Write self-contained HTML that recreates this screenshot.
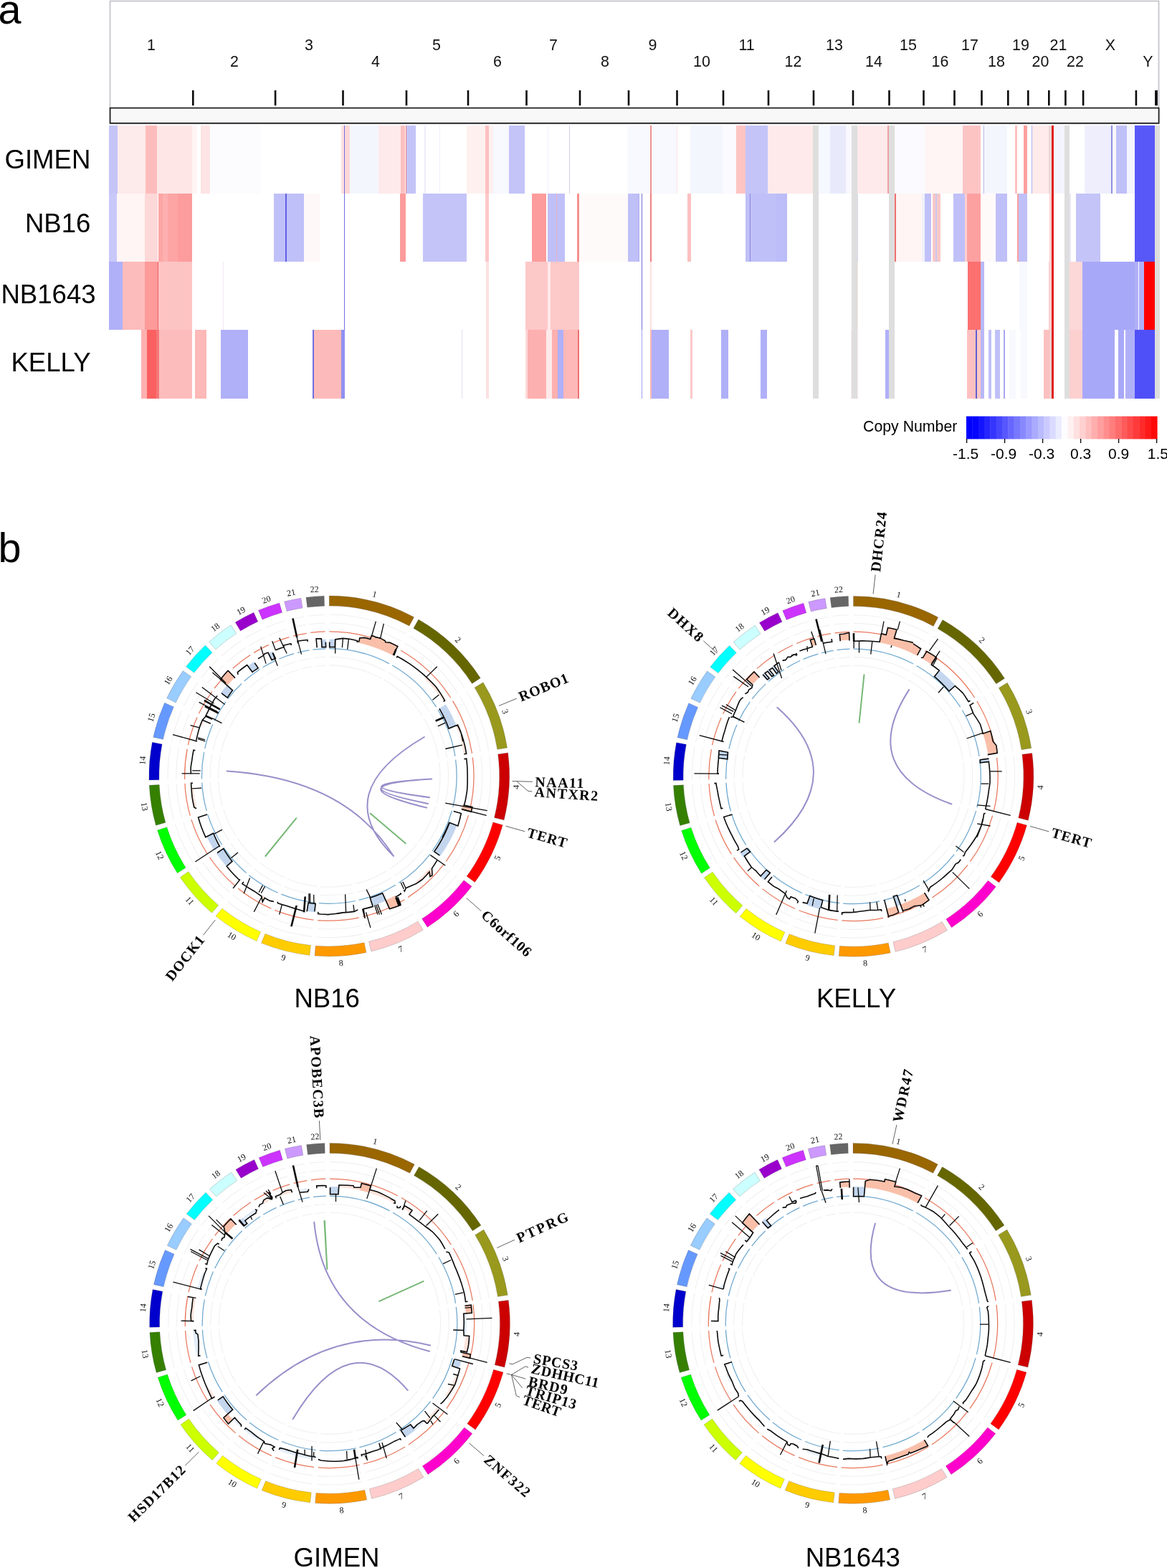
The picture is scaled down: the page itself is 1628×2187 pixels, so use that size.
<!DOCTYPE html>
<html lang="en"><head><meta charset="utf-8"><title>Copy number and structural variants</title>
<style>html,body{margin:0;padding:0;background:#fff}body{width:1628px;height:2187px;overflow:hidden}svg{display:block}</style></head><body>
<svg xmlns="http://www.w3.org/2000/svg" width="1628" height="2187" viewBox="0 0 1628 2187">
<rect width="1628" height="2187" fill="#fff"/>
<rect x="153.5" y="1.5" width="1463" height="171" fill="#fff" stroke="#c6c6cb" stroke-width="1.8"/>
<rect x="153.6" y="150.6" width="1463" height="21.2" fill="#f8f8f8" stroke="#1a1a1a" stroke-width="1.7"/>
<line x1="269.3" y1="126" x2="269.3" y2="147.2" stroke="#0a0a0a" stroke-width="2.6"/>
<line x1="384.1" y1="126" x2="384.1" y2="147.2" stroke="#0a0a0a" stroke-width="2.6"/>
<line x1="478.5" y1="126" x2="478.5" y2="147.2" stroke="#0a0a0a" stroke-width="2.6"/>
<line x1="567" y1="126" x2="567" y2="147.2" stroke="#0a0a0a" stroke-width="2.6"/>
<line x1="653" y1="126" x2="653" y2="147.2" stroke="#0a0a0a" stroke-width="2.6"/>
<line x1="734.5" y1="126" x2="734.5" y2="147.2" stroke="#0a0a0a" stroke-width="2.6"/>
<line x1="809" y1="126" x2="809" y2="147.2" stroke="#0a0a0a" stroke-width="2.6"/>
<line x1="877" y1="126" x2="877" y2="147.2" stroke="#0a0a0a" stroke-width="2.6"/>
<line x1="944.5" y1="126" x2="944.5" y2="147.2" stroke="#0a0a0a" stroke-width="2.6"/>
<line x1="1009" y1="126" x2="1009" y2="147.2" stroke="#0a0a0a" stroke-width="2.6"/>
<line x1="1072" y1="126" x2="1072" y2="147.2" stroke="#0a0a0a" stroke-width="2.6"/>
<line x1="1135" y1="126" x2="1135" y2="147.2" stroke="#0a0a0a" stroke-width="2.6"/>
<line x1="1190" y1="126" x2="1190" y2="147.2" stroke="#0a0a0a" stroke-width="2.6"/>
<line x1="1240.5" y1="126" x2="1240.5" y2="147.2" stroke="#0a0a0a" stroke-width="2.6"/>
<line x1="1288.5" y1="126" x2="1288.5" y2="147.2" stroke="#0a0a0a" stroke-width="2.6"/>
<line x1="1331.5" y1="126" x2="1331.5" y2="147.2" stroke="#0a0a0a" stroke-width="2.6"/>
<line x1="1369.5" y1="126" x2="1369.5" y2="147.2" stroke="#0a0a0a" stroke-width="2.6"/>
<line x1="1406.3" y1="126" x2="1406.3" y2="147.2" stroke="#0a0a0a" stroke-width="2.6"/>
<line x1="1434.3" y1="126" x2="1434.3" y2="147.2" stroke="#0a0a0a" stroke-width="2.6"/>
<line x1="1463.3" y1="126" x2="1463.3" y2="147.2" stroke="#0a0a0a" stroke-width="2.6"/>
<line x1="1486.4" y1="126" x2="1486.4" y2="147.2" stroke="#0a0a0a" stroke-width="2.6"/>
<line x1="1511.1" y1="126" x2="1511.1" y2="147.2" stroke="#0a0a0a" stroke-width="2.6"/>
<line x1="1584.9" y1="126" x2="1584.9" y2="147.2" stroke="#0a0a0a" stroke-width="2.6"/>
<line x1="1613" y1="126" x2="1613" y2="147.2" stroke="#0a0a0a" stroke-width="3.8"/>
<g font-family='"Liberation Sans", Arial, Helvetica, sans-serif' font-size="21.4" fill="#111" text-anchor="middle">
<text x="211" y="69.9">1</text>
<text x="431" y="69.9">3</text>
<text x="609" y="69.9">5</text>
<text x="772" y="69.9">7</text>
<text x="910.5" y="69.9">9</text>
<text x="1041.5" y="69.9">11</text>
<text x="1164" y="69.9">13</text>
<text x="1267" y="69.9">15</text>
<text x="1353" y="69.9">17</text>
<text x="1424" y="69.9">19</text>
<text x="1476.5" y="69.9">21</text>
<text x="1549" y="69.9">X</text>
<text x="327" y="92.6">2</text>
<text x="524" y="92.6">4</text>
<text x="694" y="92.6">6</text>
<text x="844" y="92.6">8</text>
<text x="979" y="92.6">10</text>
<text x="1106.5" y="92.6">12</text>
<text x="1219" y="92.6">14</text>
<text x="1311.5" y="92.6">16</text>
<text x="1390" y="92.6">18</text>
<text x="1451.5" y="92.6">20</text>
<text x="1500" y="92.6">22</text>
<text x="1601.5" y="92.6">Y</text>
</g>
<g shape-rendering="crispEdges">
<rect x="151.5" y="175.0" width="12.6" height="94.6" fill="#c4c4f8"/>
<rect x="164.1" y="175.0" width="38.6" height="94.6" fill="#fdeaea"/>
<rect x="202.7" y="175.0" width="16.6" height="94.6" fill="#fdbcbc"/>
<rect x="219.3" y="175.0" width="48.9" height="94.6" fill="#fee6e6"/>
<rect x="268.2" y="175.0" width="6.8" height="94.6" fill="#fff5f5"/>
<rect x="279.5" y="175.0" width="13.6" height="94.6" fill="#fee4e4"/>
<rect x="293.2" y="175.0" width="70.5" height="94.6" fill="#fcfcff"/>
<rect x="476.1" y="175.0" width="3.4" height="94.6" fill="#fee0e0"/>
<rect x="479.5" y="175.0" width="1.8" height="94.6" fill="#7070e0"/>
<rect x="481.4" y="175.0" width="6.6" height="94.6" fill="#fdd8d8"/>
<rect x="488.0" y="175.0" width="32.0" height="94.6" fill="#f4f6fe"/>
<rect x="520.0" y="175.0" width="8.0" height="94.6" fill="#f4f6fe"/>
<rect x="528.0" y="175.0" width="30.7" height="94.6" fill="#feeaea"/>
<rect x="558.6" y="175.0" width="6.8" height="94.6" fill="#fdc0c0"/>
<rect x="565.5" y="175.0" width="1.4" height="94.6" fill="#f08080"/>
<rect x="566.8" y="175.0" width="13.4" height="94.6" fill="#c4c4f8"/>
<rect x="592.3" y="175.0" width="1.4" height="94.6" fill="#eeeefc"/>
<rect x="612.7" y="175.0" width="1.4" height="94.6" fill="#eeeefc"/>
<rect x="650.7" y="175.0" width="26.1" height="94.6" fill="#fff0f0"/>
<rect x="676.8" y="175.0" width="5.0" height="94.6" fill="#fdc0c0"/>
<rect x="681.8" y="175.0" width="6.4" height="94.6" fill="#fff0f0"/>
<rect x="688.2" y="175.0" width="21.6" height="94.6" fill="#f8f8ff"/>
<rect x="709.8" y="175.0" width="22.3" height="94.6" fill="#c4c4f8"/>
<rect x="763.6" y="175.0" width="1.8" height="94.6" fill="#eeeefc"/>
<rect x="793.6" y="175.0" width="1.4" height="94.6" fill="#d0d0ec"/>
<rect x="874.5" y="175.0" width="15.5" height="94.6" fill="#f8f8ff"/>
<rect x="890.0" y="175.0" width="17.0" height="94.6" fill="#f8f8ff"/>
<rect x="907.0" y="175.0" width="1.8" height="94.6" fill="#f09090"/>
<rect x="908.9" y="175.0" width="34.8" height="94.6" fill="#f8f8ff"/>
<rect x="943.6" y="175.0" width="1.8" height="94.6" fill="#fde4e4"/>
<rect x="962.7" y="175.0" width="45.5" height="94.6" fill="#f4f6fe"/>
<rect x="1008.2" y="175.0" width="18.9" height="94.6" fill="#fafaff"/>
<rect x="1027.0" y="175.0" width="13.0" height="94.6" fill="#fdc4c4"/>
<rect x="1040.0" y="175.0" width="30.7" height="94.6" fill="#c4c4f8"/>
<rect x="1070.7" y="175.0" width="63.6" height="94.6" fill="#feeaea"/>
<rect x="1134.3" y="175.0" width="8.0" height="94.6" fill="#dedede"/>
<rect x="1142.3" y="175.0" width="15.9" height="94.6" fill="#f6f8ff"/>
<rect x="1158.2" y="175.0" width="21.6" height="94.6" fill="#e8eafc"/>
<rect x="1179.8" y="175.0" width="8.4" height="94.6" fill="#f8f8ff"/>
<rect x="1188.2" y="175.0" width="7.5" height="94.6" fill="#dedede"/>
<rect x="1195.7" y="175.0" width="43.2" height="94.6" fill="#feeaea"/>
<rect x="1238.4" y="175.0" width="1.8" height="94.6" fill="#f0a0a0"/>
<rect x="1240.2" y="175.0" width="7.7" height="94.6" fill="#dedede"/>
<rect x="1248.0" y="175.0" width="12.0" height="94.6" fill="#fafaff"/>
<rect x="1258.0" y="175.0" width="31.8" height="94.6" fill="#fafaff"/>
<rect x="1289.8" y="175.0" width="53.4" height="94.6" fill="#fff5f5"/>
<rect x="1343.2" y="175.0" width="25.0" height="94.6" fill="#fdc4c4"/>
<rect x="1371.6" y="175.0" width="1.8" height="94.6" fill="#b0b0f0"/>
<rect x="1373.5" y="175.0" width="31.1" height="94.6" fill="#f4f6fe"/>
<rect x="1416.0" y="175.0" width="3.0" height="94.6" fill="#fdc0c0"/>
<rect x="1428.0" y="175.0" width="4.5" height="94.6" fill="#fca0a0"/>
<rect x="1438.5" y="175.0" width="1.4" height="94.6" fill="#b0b0f0"/>
<rect x="1439.8" y="175.0" width="22.7" height="94.6" fill="#feeaea"/>
<rect x="1462.5" y="175.0" width="4.1" height="94.6" fill="#ecd8d8"/>
<rect x="1466.6" y="175.0" width="3.2" height="94.6" fill="#e02020"/>
<rect x="1469.8" y="175.0" width="15.5" height="94.6" fill="#f4f4fe"/>
<rect x="1485.3" y="175.0" width="6.4" height="94.6" fill="#dedede"/>
<rect x="1512.5" y="175.0" width="37.5" height="94.6" fill="#eeeefc"/>
<rect x="1550.0" y="175.0" width="1.8" height="94.6" fill="#9090e0"/>
<rect x="1551.9" y="175.0" width="5.0" height="94.6" fill="#f8f8ff"/>
<rect x="1556.9" y="175.0" width="15.5" height="94.6" fill="#c0c0f8"/>
<rect x="1572.3" y="175.0" width="10.7" height="94.6" fill="#f4f4fe"/>
<rect x="1583.0" y="175.0" width="28.4" height="94.6" fill="#5858f8"/>
<rect x="1611.4" y="175.0" width="6.8" height="94.6" fill="#dedede"/>
<rect x="151.5" y="269.6" width="11.0" height="95.4" fill="#c8c8fa"/>
<rect x="162.5" y="269.6" width="39.3" height="95.4" fill="#fff5f5"/>
<rect x="201.8" y="269.6" width="18.6" height="95.4" fill="#fdd8d8"/>
<rect x="220.5" y="269.6" width="47.0" height="95.4" fill="#fda5a5"/>
<rect x="227.3" y="269.6" width="6.8" height="95.4" fill="#fdb0b0"/>
<rect x="247.7" y="269.6" width="19.8" height="95.4" fill="#fc9c9c"/>
<rect x="381.8" y="269.6" width="42.0" height="95.4" fill="#c0c0f8"/>
<rect x="397.7" y="269.6" width="2.7" height="95.4" fill="#6060e8"/>
<rect x="423.9" y="269.6" width="21.6" height="95.4" fill="#fff8f8"/>
<rect x="479.5" y="269.6" width="1.8" height="95.4" fill="#7070e0"/>
<rect x="557.5" y="269.6" width="8.4" height="95.4" fill="#fc9c9c"/>
<rect x="589.8" y="269.6" width="60.9" height="95.4" fill="#c4c4f8"/>
<rect x="676.8" y="269.6" width="5.0" height="95.4" fill="#fdc8c8"/>
<rect x="741.6" y="269.6" width="20.0" height="95.4" fill="#fc9c9c"/>
<rect x="764.3" y="269.6" width="23.4" height="95.4" fill="#c0c0f8"/>
<rect x="775.5" y="269.6" width="1.8" height="95.4" fill="#e8b0c8"/>
<rect x="805.2" y="269.6" width="2.5" height="95.4" fill="#f89090"/>
<rect x="807.7" y="269.6" width="68.0" height="95.4" fill="#fffafa"/>
<rect x="875.7" y="269.6" width="14.3" height="95.4" fill="#c0c0f8"/>
<rect x="890.0" y="269.6" width="1.8" height="95.4" fill="#b8b8f8"/>
<rect x="894.5" y="269.6" width="1.8" height="95.4" fill="#7070d8"/>
<rect x="907.0" y="269.6" width="1.8" height="95.4" fill="#f08080"/>
<rect x="959.3" y="269.6" width="4.5" height="95.4" fill="#fdc0c0"/>
<rect x="1040.0" y="269.6" width="58.0" height="95.4" fill="#c0c0f8"/>
<rect x="1045.7" y="269.6" width="1.4" height="95.4" fill="#8888e0"/>
<rect x="1083.2" y="269.6" width="14.8" height="95.4" fill="#bcbcf8"/>
<rect x="1134.3" y="269.6" width="8.0" height="95.4" fill="#dedede"/>
<rect x="1188.2" y="269.6" width="7.5" height="95.4" fill="#dedede"/>
<rect x="1195.7" y="269.6" width="1.6" height="95.4" fill="#d8d8f0"/>
<rect x="1240.2" y="269.6" width="7.7" height="95.4" fill="#dedede"/>
<rect x="1248.0" y="269.6" width="2.3" height="95.4" fill="#f07070"/>
<rect x="1250.2" y="269.6" width="9.8" height="95.4" fill="#fff5f5"/>
<rect x="1258.0" y="269.6" width="28.4" height="95.4" fill="#fff5f5"/>
<rect x="1286.4" y="269.6" width="3.4" height="95.4" fill="#f0f0fc"/>
<rect x="1289.8" y="269.6" width="9.1" height="95.4" fill="#c0c0f8"/>
<rect x="1301.2" y="269.6" width="10.9" height="95.4" fill="#f8c8c8"/>
<rect x="1304.6" y="269.6" width="2.3" height="95.4" fill="#c8c8f0"/>
<rect x="1329.6" y="269.6" width="15.9" height="95.4" fill="#c0c0f8"/>
<rect x="1345.5" y="269.6" width="3.4" height="95.4" fill="#fdd0d0"/>
<rect x="1348.9" y="269.6" width="19.3" height="95.4" fill="#fca0a0"/>
<rect x="1368.2" y="269.6" width="21.1" height="95.4" fill="#fffafa"/>
<rect x="1389.4" y="269.6" width="15.2" height="95.4" fill="#c0c0f8"/>
<rect x="1418.9" y="269.6" width="2.3" height="95.4" fill="#f8a0a0"/>
<rect x="1421.2" y="269.6" width="11.4" height="95.4" fill="#c0c0f8"/>
<rect x="1463.7" y="269.6" width="3.0" height="95.4" fill="#f8d0d0"/>
<rect x="1466.6" y="269.6" width="3.2" height="95.4" fill="#e02020"/>
<rect x="1485.3" y="269.6" width="6.4" height="95.4" fill="#dedede"/>
<rect x="1491.6" y="269.6" width="2.7" height="95.4" fill="#e8e8f8"/>
<rect x="1501.2" y="269.6" width="34.1" height="95.4" fill="#c4c4f8"/>
<rect x="1583.0" y="269.6" width="28.4" height="95.4" fill="#5858f8"/>
<rect x="1611.4" y="269.6" width="6.8" height="95.4" fill="#dedede"/>
<rect x="151.5" y="365.0" width="19.4" height="95.3" fill="#b0b0f8"/>
<rect x="170.9" y="365.0" width="30.9" height="95.3" fill="#fdbcbc"/>
<rect x="201.8" y="365.0" width="18.6" height="95.3" fill="#fd9a9a"/>
<rect x="219.5" y="365.0" width="1.8" height="95.3" fill="#f06060"/>
<rect x="221.4" y="365.0" width="46.1" height="95.3" fill="#fdc4c4"/>
<rect x="310.9" y="365.0" width="0.9" height="95.3" fill="#f0e8f0"/>
<rect x="479.5" y="365.0" width="1.8" height="95.3" fill="#7070e0"/>
<rect x="678.0" y="365.0" width="3.9" height="95.3" fill="#fde0e0"/>
<rect x="732.5" y="365.0" width="75.0" height="95.3" fill="#fdc8c8"/>
<rect x="764.3" y="365.0" width="3.4" height="95.3" fill="#feeaea"/>
<rect x="894.5" y="365.0" width="1.8" height="95.3" fill="#7070d8"/>
<rect x="907.0" y="365.0" width="1.8" height="95.3" fill="#fde0e0"/>
<rect x="1134.3" y="365.0" width="8.0" height="95.3" fill="#dedede"/>
<rect x="1188.2" y="365.0" width="7.5" height="95.3" fill="#dedede"/>
<rect x="1195.7" y="365.0" width="1.6" height="95.3" fill="#fbe4e4"/>
<rect x="1240.2" y="365.0" width="7.7" height="95.3" fill="#dedede"/>
<rect x="1350.0" y="365.0" width="18.2" height="95.3" fill="#fc7070"/>
<rect x="1368.2" y="365.0" width="5.2" height="95.3" fill="#b8b8f8"/>
<rect x="1421.6" y="365.0" width="11.4" height="95.3" fill="#f8f8ff"/>
<rect x="1462.5" y="365.0" width="4.1" height="95.3" fill="#f8d0d0"/>
<rect x="1466.6" y="365.0" width="3.2" height="95.3" fill="#e02020"/>
<rect x="1485.3" y="365.0" width="6.4" height="95.3" fill="#dedede"/>
<rect x="1491.6" y="365.0" width="18.6" height="95.3" fill="#fdd8d8"/>
<rect x="1510.3" y="365.0" width="72.7" height="95.3" fill="#a8a8f8"/>
<rect x="1583.0" y="365.0" width="4.5" height="95.3" fill="#b0b0f8"/>
<rect x="1589.4" y="365.0" width="6.1" height="95.3" fill="#b0b0f8"/>
<rect x="1595.5" y="365.0" width="15.9" height="95.3" fill="#ff0000"/>
<rect x="1611.4" y="365.0" width="6.8" height="95.3" fill="#dedede"/>
<rect x="151.5" y="460.3" width="0.3" height="95.4" fill="#fde0e0"/>
<rect x="197.3" y="460.3" width="7.3" height="95.4" fill="#fdb0b0"/>
<rect x="204.5" y="460.3" width="13.6" height="95.4" fill="#fb6060"/>
<rect x="218.2" y="460.3" width="3.4" height="95.4" fill="#f47878"/>
<rect x="221.6" y="460.3" width="45.9" height="95.4" fill="#fdbcbc"/>
<rect x="272.3" y="460.3" width="15.9" height="95.4" fill="#fdb8b8"/>
<rect x="307.5" y="460.3" width="38.0" height="95.4" fill="#b0b0f8"/>
<rect x="436.4" y="460.3" width="1.8" height="95.4" fill="#7070e0"/>
<rect x="438.2" y="460.3" width="38.0" height="95.4" fill="#fdbaba"/>
<rect x="476.1" y="460.3" width="5.2" height="95.4" fill="#9090f0"/>
<rect x="643.9" y="460.3" width="0.9" height="95.4" fill="#e0e0f8"/>
<rect x="678.0" y="460.3" width="3.9" height="95.4" fill="#fde0e0"/>
<rect x="732.5" y="460.3" width="3.4" height="95.4" fill="#fdd8d8"/>
<rect x="735.9" y="460.3" width="25.7" height="95.4" fill="#fdb0b0"/>
<rect x="761.6" y="460.3" width="8.0" height="95.4" fill="#feeaea"/>
<rect x="769.5" y="460.3" width="8.4" height="95.4" fill="#fdb0b0"/>
<rect x="778.0" y="460.3" width="8.0" height="95.4" fill="#b0b0f8"/>
<rect x="785.9" y="460.3" width="20.5" height="95.4" fill="#fdb8b8"/>
<rect x="806.4" y="460.3" width="1.8" height="95.4" fill="#f07070"/>
<rect x="894.5" y="460.3" width="1.8" height="95.4" fill="#a0a0f0"/>
<rect x="907.0" y="460.3" width="1.8" height="95.4" fill="#fbb8b8"/>
<rect x="908.9" y="460.3" width="23.9" height="95.4" fill="#b0b0f8"/>
<rect x="963.2" y="460.3" width="2.3" height="95.4" fill="#fcc8c8"/>
<rect x="1006.4" y="460.3" width="9.8" height="95.4" fill="#b0b0f8"/>
<rect x="1060.9" y="460.3" width="9.3" height="95.4" fill="#b0b0f8"/>
<rect x="1134.3" y="460.3" width="8.0" height="95.4" fill="#dedede"/>
<rect x="1186.6" y="460.3" width="1.6" height="95.4" fill="#fdeaea"/>
<rect x="1188.2" y="460.3" width="7.5" height="95.4" fill="#dedede"/>
<rect x="1195.7" y="460.3" width="1.6" height="95.4" fill="#fdeaea"/>
<rect x="1234.8" y="460.3" width="5.5" height="95.4" fill="#b0b0f8"/>
<rect x="1240.2" y="460.3" width="7.7" height="95.4" fill="#dedede"/>
<rect x="1348.9" y="460.3" width="12.5" height="95.4" fill="#fdc0c0"/>
<rect x="1361.4" y="460.3" width="1.6" height="95.4" fill="#6060d0"/>
<rect x="1363.0" y="460.3" width="5.2" height="95.4" fill="#fdc8c8"/>
<rect x="1368.2" y="460.3" width="5.2" height="95.4" fill="#b8b8f8"/>
<rect x="1379.1" y="460.3" width="3.4" height="95.4" fill="#c0c0f8"/>
<rect x="1388.0" y="460.3" width="7.0" height="95.4" fill="#c0c0f8"/>
<rect x="1400.0" y="460.3" width="1.6" height="95.4" fill="#a8a8f0"/>
<rect x="1408.0" y="460.3" width="9.1" height="95.4" fill="#f8f8ff"/>
<rect x="1423.9" y="460.3" width="9.1" height="95.4" fill="#f8f8ff"/>
<rect x="1455.7" y="460.3" width="8.0" height="95.4" fill="#fdc0c0"/>
<rect x="1463.7" y="460.3" width="3.0" height="95.4" fill="#ecd0d0"/>
<rect x="1466.6" y="460.3" width="3.2" height="95.4" fill="#e02020"/>
<rect x="1485.3" y="460.3" width="6.4" height="95.4" fill="#dedede"/>
<rect x="1491.6" y="460.3" width="18.6" height="95.4" fill="#fdd0d0"/>
<rect x="1510.3" y="460.3" width="45.0" height="95.4" fill="#a8a8f8"/>
<rect x="1560.3" y="460.3" width="7.3" height="95.4" fill="#a8a8f8"/>
<rect x="1569.8" y="460.3" width="13.2" height="95.4" fill="#b0b0f8"/>
<rect x="1583.0" y="460.3" width="28.4" height="95.4" fill="#5050f8"/>
<rect x="1611.4" y="460.3" width="6.8" height="95.4" fill="#dedede"/>
</g>
<g font-family='"Liberation Sans", Arial, Helvetica, sans-serif' font-size="36.6" fill="#000" text-anchor="end">
<text x="126.4" y="235">GIMEN</text>
<text x="126.4" y="323.7">NB16</text>
<text x="133.6" y="423.3">NB1643</text>
<text x="126.6" y="518.4">KELLY</text>
</g>
<defs><linearGradient id="cn" x1="0" x2="1" y1="0" y2="0"><stop offset="0" stop-color="#0000ff"/><stop offset="0.5" stop-color="#ffffff"/><stop offset="1" stop-color="#ff0000"/></linearGradient></defs>
<rect x="1348.00" y="580.6" width="8.72" height="31.8" fill="#0000ff"/>
<rect x="1356.32" y="580.6" width="8.72" height="31.8" fill="#0404ff"/>
<rect x="1364.64" y="580.6" width="8.72" height="31.8" fill="#1414ff"/>
<rect x="1372.96" y="580.6" width="8.72" height="31.8" fill="#2525ff"/>
<rect x="1381.28" y="580.6" width="8.72" height="31.8" fill="#3535ff"/>
<rect x="1389.59" y="580.6" width="8.72" height="31.8" fill="#4646ff"/>
<rect x="1397.91" y="580.6" width="8.72" height="31.8" fill="#5757ff"/>
<rect x="1406.23" y="580.6" width="8.72" height="31.8" fill="#6767ff"/>
<rect x="1414.55" y="580.6" width="8.72" height="31.8" fill="#7878ff"/>
<rect x="1422.87" y="580.6" width="8.72" height="31.8" fill="#8888ff"/>
<rect x="1431.19" y="580.6" width="8.72" height="31.8" fill="#9999ff"/>
<rect x="1439.51" y="580.6" width="8.72" height="31.8" fill="#aaaaff"/>
<rect x="1447.83" y="580.6" width="8.72" height="31.8" fill="#babaff"/>
<rect x="1456.14" y="580.6" width="8.72" height="31.8" fill="#cbcbff"/>
<rect x="1464.46" y="580.6" width="8.72" height="31.8" fill="#dbdbff"/>
<rect x="1472.78" y="580.6" width="8.72" height="31.8" fill="#ececff"/>
<rect x="1481.10" y="580.6" width="8.72" height="31.8" fill="#fdfdff"/>
<rect x="1489.42" y="580.6" width="8.72" height="31.8" fill="#fff1f1"/>
<rect x="1497.74" y="580.6" width="8.72" height="31.8" fill="#ffe0e0"/>
<rect x="1506.06" y="580.6" width="8.72" height="31.8" fill="#ffd0d0"/>
<rect x="1514.38" y="580.6" width="8.72" height="31.8" fill="#ffbfbf"/>
<rect x="1522.69" y="580.6" width="8.72" height="31.8" fill="#ffaeae"/>
<rect x="1531.01" y="580.6" width="8.72" height="31.8" fill="#ff9e9e"/>
<rect x="1539.33" y="580.6" width="8.72" height="31.8" fill="#ff8d8d"/>
<rect x="1547.65" y="580.6" width="8.72" height="31.8" fill="#ff7d7d"/>
<rect x="1555.97" y="580.6" width="8.72" height="31.8" fill="#ff6c6c"/>
<rect x="1564.29" y="580.6" width="8.72" height="31.8" fill="#ff5b5b"/>
<rect x="1572.61" y="580.6" width="8.72" height="31.8" fill="#ff4b4b"/>
<rect x="1580.92" y="580.6" width="8.72" height="31.8" fill="#ff3a3a"/>
<rect x="1589.24" y="580.6" width="8.72" height="31.8" fill="#ff2a2a"/>
<rect x="1597.56" y="580.6" width="8.72" height="31.8" fill="#ff1919"/>
<rect x="1605.88" y="580.6" width="8.72" height="31.8" fill="#ff0808"/>
<line x1="1348.6" y1="612" x2="1348.6" y2="618" stroke="#000" stroke-width="1.3"/>
<line x1="1401.6" y1="612" x2="1401.6" y2="618" stroke="#000" stroke-width="1.3"/>
<line x1="1454.6" y1="612" x2="1454.6" y2="618" stroke="#000" stroke-width="1.3"/>
<line x1="1507.6" y1="612" x2="1507.6" y2="618" stroke="#000" stroke-width="1.3"/>
<line x1="1560.6" y1="612" x2="1560.6" y2="618" stroke="#000" stroke-width="1.3"/>
<line x1="1613.6" y1="612" x2="1613.6" y2="618" stroke="#000" stroke-width="1.3"/>
<g font-family='"Liberation Sans", Arial, Helvetica, sans-serif' font-size="21" fill="#000">
<text x="1204" y="601.5" font-size="21.3">Copy Number</text>
<text x="1347.2" y="640" text-anchor="middle">-1.5</text>
<text x="1400.2" y="640" text-anchor="middle">-0.9</text>
<text x="1453.2" y="640" text-anchor="middle">-0.3</text>
<text x="1507.6" y="640" text-anchor="middle">0.3</text>
<text x="1560.6" y="640" text-anchor="middle">0.9</text>
<text x="1630" y="640" text-anchor="end">1.5</text>
</g>
<text x="-2.5" y="33.4" font-family='"Liberation Sans", Arial, Helvetica, sans-serif' font-size="57.6" fill="#000">a</text>
<text x="-2.5" y="784.2" font-family='"Liberation Sans", Arial, Helvetica, sans-serif' font-size="57.6" fill="#000">b</text>
<g id="plot-NB16">
<path d="M459.30,927.90A154.60,154.60 0 0 1 532.02,946.07M535.85,948.18A154.60,154.60 0 0 1 589.04,998.43M591.37,1002.13A154.60,154.60 0 0 1 611.98,1058.24M612.61,1062.57A154.60,154.60 0 0 1 609.23,1120.19M608.11,1124.42A154.60,154.60 0 0 1 584.22,1173.59M581.59,1177.09A154.60,154.60 0 0 1 543.54,1212.13M539.84,1214.47A154.60,154.60 0 0 1 495.34,1232.84M491.07,1233.80A154.60,154.60 0 0 1 446.85,1236.60M442.50,1236.18A154.60,154.60 0 0 1 401.04,1225.70M397.02,1224.00A154.60,154.60 0 0 1 361.97,1202.62M358.61,1199.82A154.60,154.60 0 0 1 331.38,1169.32M328.97,1165.67A154.60,154.60 0 0 1 311.84,1128.93M310.58,1124.73A154.60,154.60 0 0 1 304.90,1090.29M304.74,1085.92A154.60,154.60 0 0 1 307.45,1053.48M308.33,1049.20A154.60,154.60 0 0 1 318.05,1019.66M319.88,1015.69A154.60,154.60 0 0 1 333.87,992.12M336.48,988.61A154.60,154.60 0 0 1 352.95,970.29M356.17,967.33A154.60,154.60 0 0 1 374.98,952.92M378.68,950.58A154.60,154.60 0 0 1 394.51,942.13M398.51,940.35A154.60,154.60 0 0 1 416.53,933.93M420.76,932.78A154.60,154.60 0 0 1 435.07,929.81M439.40,929.19A154.60,154.60 0 0 1 454.92,927.96" fill="none" stroke="#f3efef" stroke-width="1.1"/>
<path d="M459.30,916.20A166.30,166.30 0 0 1 537.52,935.75M541.65,938.02A166.30,166.30 0 0 1 598.86,992.07M601.37,996.05A166.30,166.30 0 0 1 623.54,1056.40M624.21,1061.06A166.30,166.30 0 0 1 620.58,1123.05M619.37,1127.59A166.30,166.30 0 0 1 593.67,1180.48M590.84,1184.24A166.30,166.30 0 0 1 549.91,1221.95M545.93,1224.45A166.30,166.30 0 0 1 498.07,1244.22M493.47,1245.25A166.30,166.30 0 0 1 445.91,1248.26M441.23,1247.81A166.30,166.30 0 0 1 396.64,1236.54M392.30,1234.71A166.30,166.30 0 0 1 354.61,1211.71M350.99,1208.70A166.30,166.30 0 0 1 321.70,1175.89M319.11,1171.96A166.30,166.30 0 0 1 300.68,1132.44M299.33,1127.93A166.30,166.30 0 0 1 293.21,1090.88M293.04,1086.18A166.30,166.30 0 0 1 295.96,1051.29M296.90,1046.68A166.30,166.30 0 0 1 307.36,1014.91M309.33,1010.64A166.30,166.30 0 0 1 324.38,985.28M327.18,981.50A166.30,166.30 0 0 1 344.90,961.80M348.36,958.61A166.30,166.30 0 0 1 368.60,943.11M372.58,940.60A166.30,166.30 0 0 1 389.61,931.51M393.91,929.59A166.30,166.30 0 0 1 413.30,922.69M417.84,921.45A166.30,166.30 0 0 1 433.23,918.26M437.89,917.58A166.30,166.30 0 0 1 454.59,916.27" fill="none" stroke="#f3efef" stroke-width="1.1"/>
<path d="M459.30,869.00A213.50,213.50 0 0 1 559.73,894.09M565.02,897.01A213.50,213.50 0 0 1 638.47,966.40M641.69,971.52A213.50,213.50 0 0 1 670.15,1049.00M671.02,1054.98A213.50,213.50 0 0 1 666.36,1134.55M664.80,1140.39A213.50,213.50 0 0 1 631.81,1208.29M628.18,1213.12A213.50,213.50 0 0 1 575.63,1261.52M570.52,1264.74A213.50,213.50 0 0 1 509.07,1290.12M503.17,1291.44A213.50,213.50 0 0 1 442.11,1295.31M436.10,1294.74A213.50,213.50 0 0 1 378.85,1280.26M373.29,1277.91A213.50,213.50 0 0 1 324.90,1248.38M320.26,1244.51A213.50,213.50 0 0 1 282.65,1202.40M279.32,1197.35A213.50,213.50 0 0 1 255.65,1146.61M253.92,1140.82A213.50,213.50 0 0 1 246.07,1093.26M245.85,1087.22A213.50,213.50 0 0 1 249.59,1042.43M250.81,1036.51A213.50,213.50 0 0 1 264.23,995.73M266.76,990.24A213.50,213.50 0 0 1 286.08,957.69M289.68,952.84A213.50,213.50 0 0 1 312.43,927.54M316.88,923.45A213.50,213.50 0 0 1 342.85,903.55M347.97,900.33A213.50,213.50 0 0 1 369.83,888.65M375.35,886.20A213.50,213.50 0 0 1 400.24,877.33M406.07,875.74A213.50,213.50 0 0 1 425.83,871.64M431.81,870.78A213.50,213.50 0 0 1 453.26,869.09" fill="none" stroke="#f3efef" stroke-width="1.1"/>
<path d="M459.30,857.30A225.20,225.20 0 0 1 565.23,883.77M570.81,886.85A225.20,225.20 0 0 1 648.29,960.04M651.68,965.44A225.20,225.20 0 0 1 681.71,1047.16M682.62,1053.47A225.20,225.20 0 0 1 677.70,1137.41M676.06,1143.56A225.20,225.20 0 0 1 641.26,1215.18M637.43,1220.28A225.20,225.20 0 0 1 582.01,1271.33M576.61,1274.73A225.20,225.20 0 0 1 511.80,1301.50M505.58,1302.89A225.20,225.20 0 0 1 441.17,1306.97M434.82,1306.37A225.20,225.20 0 0 1 374.44,1291.10M368.57,1288.62A225.20,225.20 0 0 1 317.53,1257.48M312.64,1253.39A225.20,225.20 0 0 1 272.96,1208.97M269.46,1203.64A225.20,225.20 0 0 1 244.49,1150.13M242.67,1144.02A225.20,225.20 0 0 1 234.39,1093.85M234.16,1087.48A225.20,225.20 0 0 1 238.10,1040.23M239.39,1033.99A225.20,225.20 0 0 1 253.54,990.97M256.21,985.18A225.20,225.20 0 0 1 276.59,950.85M280.39,945.73A225.20,225.20 0 0 1 304.39,919.05M309.07,914.73A225.20,225.20 0 0 1 336.47,893.74M341.86,890.34A225.20,225.20 0 0 1 364.93,878.03M370.75,875.44A225.20,225.20 0 0 1 397.01,866.09M403.15,864.41A225.20,225.20 0 0 1 424.00,860.08M430.31,859.17A225.20,225.20 0 0 1 452.93,857.39" fill="none" stroke="#f3efef" stroke-width="1.1"/>
<path d="M459.30,880.80A201.70,201.70 0 0 1 554.17,904.51M559.17,907.26A201.70,201.70 0 0 1 628.57,972.82M631.61,977.65A201.70,201.70 0 0 1 658.50,1050.85M659.32,1056.50A201.70,201.70 0 0 1 654.91,1131.68M653.44,1137.19A201.70,201.70 0 0 1 622.27,1201.34M618.84,1205.90A201.70,201.70 0 0 1 569.20,1251.63M564.37,1254.67A201.70,201.70 0 0 1 506.32,1278.64M500.75,1279.90A201.70,201.70 0 0 1 443.06,1283.55M437.38,1283.01A201.70,201.70 0 0 1 383.30,1269.33M378.04,1267.11A201.70,201.70 0 0 1 332.32,1239.22M327.94,1235.56A201.70,201.70 0 0 1 292.41,1195.77M289.27,1191.00A201.70,201.70 0 0 1 266.91,1143.07M265.27,1137.60A201.70,201.70 0 0 1 257.86,1092.67M257.65,1086.96A201.70,201.70 0 0 1 261.18,1044.65M262.33,1039.05A201.70,201.70 0 0 1 275.01,1000.52M277.40,995.34A201.70,201.70 0 0 1 295.66,964.59M299.06,960.00A201.70,201.70 0 0 1 320.55,936.10M324.75,932.24A201.70,201.70 0 0 1 349.29,913.44M354.12,910.40A201.70,201.70 0 0 1 374.78,899.36M379.99,897.05A201.70,201.70 0 0 1 403.51,888.67M409.01,887.17A201.70,201.70 0 0 1 427.68,883.29M433.33,882.48A201.70,201.70 0 0 1 453.59,880.88" fill="none" stroke="#e8775c" stroke-width="1.25"/>
<path d="M459.30,904.70A177.80,177.80 0 0 1 542.93,925.60M547.34,928.03A177.80,177.80 0 0 1 608.51,985.81M611.19,990.07A177.80,177.80 0 0 1 634.90,1054.60M635.62,1059.58A177.80,177.80 0 0 1 631.73,1125.85M630.44,1130.71A177.80,177.80 0 0 1 602.96,1187.26M599.94,1191.28A177.80,177.80 0 0 1 556.18,1231.59M551.92,1234.27A177.80,177.80 0 0 1 500.75,1255.40M495.84,1256.51A177.80,177.80 0 0 1 444.99,1259.72M439.98,1259.25A177.80,177.80 0 0 1 392.30,1247.19M387.67,1245.23A177.80,177.80 0 0 1 347.37,1220.65M343.51,1217.42A177.80,177.80 0 0 1 312.18,1182.35M309.42,1178.15A177.80,177.80 0 0 1 289.71,1135.89M288.26,1131.07A177.80,177.80 0 0 1 281.73,1091.46M281.54,1086.43A177.80,177.80 0 0 1 284.66,1049.13M285.67,1044.20A177.80,177.80 0 0 1 296.85,1010.24M298.96,1005.67A177.80,177.80 0 0 1 315.05,978.56M318.05,974.52A177.80,177.80 0 0 1 336.99,953.45M340.69,950.04A177.80,177.80 0 0 1 362.33,933.47M366.58,930.79A177.80,177.80 0 0 1 384.79,921.06M389.39,919.02A177.80,177.80 0 0 1 410.12,911.64M414.97,910.31A177.80,177.80 0 0 1 431.43,906.90M436.41,906.18A177.80,177.80 0 0 1 454.27,904.77" fill="none" stroke="#6fa8cf" stroke-width="1.25"/>
<path d="M459.30,831.10A251.40,251.40 0 0 1 577.55,860.65L570.97,873.00A237.40,237.40 0 0 0 459.30,845.10Z" fill="#996600" stroke="rgba(60,60,60,0.35)" stroke-width="0.6"/>
<path d="M583.78,864.08A251.40,251.40 0 0 1 670.28,945.79L658.53,953.40A237.40,237.40 0 0 0 576.85,876.25Z" fill="#666600" stroke="rgba(60,60,60,0.35)" stroke-width="0.6"/>
<path d="M674.06,951.82A251.40,251.40 0 0 1 707.59,1043.05L693.76,1045.24A237.40,237.40 0 0 0 662.10,959.09Z" fill="#99991e" stroke="rgba(60,60,60,0.35)" stroke-width="0.6"/>
<path d="M708.60,1050.09A251.40,251.40 0 0 1 703.11,1143.79L689.54,1140.38A237.40,237.40 0 0 0 694.72,1051.89Z" fill="#cc0000" stroke="rgba(60,60,60,0.35)" stroke-width="0.6"/>
<path d="M701.28,1150.67A251.40,251.40 0 0 1 662.43,1230.62L651.12,1222.37A237.40,237.40 0 0 0 687.81,1146.87Z" fill="#ff0000" stroke="rgba(60,60,60,0.35)" stroke-width="0.6"/>
<path d="M658.16,1236.31A251.40,251.40 0 0 1 596.28,1293.30L588.65,1281.56A237.40,237.40 0 0 0 647.08,1227.74Z" fill="#ff00cc" stroke="rgba(60,60,60,0.35)" stroke-width="0.6"/>
<path d="M590.26,1297.09A251.40,251.40 0 0 1 517.90,1326.97L514.64,1313.36A237.40,237.40 0 0 0 582.97,1285.14Z" fill="#ffcccc" stroke="rgba(60,60,60,0.35)" stroke-width="0.6"/>
<path d="M510.96,1328.53A251.40,251.40 0 0 1 439.06,1333.08L440.19,1319.13A237.40,237.40 0 0 0 508.08,1314.83Z" fill="#ff9900" stroke="rgba(60,60,60,0.35)" stroke-width="0.6"/>
<path d="M431.98,1332.41A251.40,251.40 0 0 1 364.57,1315.37L369.84,1302.40A237.40,237.40 0 0 0 433.50,1318.49Z" fill="#ffcc00" stroke="rgba(60,60,60,0.35)" stroke-width="0.6"/>
<path d="M358.02,1312.60A251.40,251.40 0 0 1 301.04,1277.83L309.85,1266.95A237.40,237.40 0 0 0 363.66,1299.78Z" fill="#ffff00" stroke="rgba(60,60,60,0.35)" stroke-width="0.6"/>
<path d="M295.57,1273.28A251.40,251.40 0 0 1 251.29,1223.68L262.87,1215.82A237.40,237.40 0 0 0 304.69,1262.65Z" fill="#ccff00" stroke="rgba(60,60,60,0.35)" stroke-width="0.6"/>
<path d="M247.37,1217.74A251.40,251.40 0 0 1 219.50,1157.99L232.86,1153.79A237.40,237.40 0 0 0 259.18,1210.21Z" fill="#00ff00" stroke="rgba(60,60,60,0.35)" stroke-width="0.6"/>
<path d="M217.46,1151.18A251.40,251.40 0 0 1 208.22,1095.17L222.20,1094.46A237.40,237.40 0 0 0 230.93,1147.35Z" fill="#358000" stroke="rgba(60,60,60,0.35)" stroke-width="0.6"/>
<path d="M207.96,1088.06A251.40,251.40 0 0 1 212.37,1035.32L226.12,1037.94A237.40,237.40 0 0 0 221.96,1087.75Z" fill="#0000cc" stroke="rgba(60,60,60,0.35)" stroke-width="0.6"/>
<path d="M213.80,1028.35A251.40,251.40 0 0 1 229.60,980.32L242.39,986.01A237.40,237.40 0 0 0 227.47,1031.36Z" fill="#6699ff" stroke="rgba(60,60,60,0.35)" stroke-width="0.6"/>
<path d="M232.58,973.86A251.40,251.40 0 0 1 255.33,935.53L266.69,943.72A237.40,237.40 0 0 0 245.21,979.91Z" fill="#99ccff" stroke="rgba(60,60,60,0.35)" stroke-width="0.6"/>
<path d="M259.57,929.82A251.40,251.40 0 0 1 286.36,900.03L295.99,910.19A237.40,237.40 0 0 0 270.70,938.32Z" fill="#00ffff" stroke="rgba(60,60,60,0.35)" stroke-width="0.6"/>
<path d="M291.60,895.21A251.40,251.40 0 0 1 322.18,871.78L329.82,883.52A237.40,237.40 0 0 0 300.93,905.64Z" fill="#ccffff" stroke="rgba(60,60,60,0.35)" stroke-width="0.6"/>
<path d="M328.20,867.99A251.40,251.40 0 0 1 353.95,854.24L359.82,866.95A237.40,237.40 0 0 0 335.50,879.93Z" fill="#9900cc" stroke="rgba(60,60,60,0.35)" stroke-width="0.6"/>
<path d="M360.45,851.35A251.40,251.40 0 0 1 389.76,840.91L393.63,854.36A237.40,237.40 0 0 0 365.96,864.22Z" fill="#cc33ff" stroke="rgba(60,60,60,0.35)" stroke-width="0.6"/>
<path d="M396.62,839.04A251.40,251.40 0 0 1 419.89,834.21L422.09,848.03A237.40,237.40 0 0 0 400.11,852.60Z" fill="#cc99ff" stroke="rgba(60,60,60,0.35)" stroke-width="0.6"/>
<path d="M426.93,833.19A251.40,251.40 0 0 1 452.19,831.20L452.58,845.20A237.40,237.40 0 0 0 428.74,847.08Z" fill="#666666" stroke="rgba(60,60,60,0.35)" stroke-width="0.6"/>
<g font-family='"Liberation Serif", "Times New Roman", serif' font-size="12" fill="#111" text-anchor="middle">
<text transform="translate(522.6,829.1) rotate(14.0)" y="3.8">1</text>
<text transform="translate(638.7,892.6) rotate(43.4)" y="3.8">2</text>
<text transform="translate(704.5,992.4) rotate(69.8)" y="3.8">3</text>
<text transform="translate(720.1,1097.8) rotate(273.4)" y="3.8">4</text>
<text transform="translate(694.2,1196.7) rotate(295.9)" y="3.8">5</text>
<text transform="translate(636.3,1274.6) rotate(317.4)" y="3.8">6</text>
<text transform="translate(559.0,1323.9) rotate(337.6)" y="3.8">7</text>
<text transform="translate(475.8,1343.2) rotate(356.4)" y="3.8">8</text>
<text transform="translate(395.3,1335.7) rotate(374.2)" y="3.8">9</text>
<text transform="translate(323.3,1305.5) rotate(391.4)" y="3.8">10</text>
<text transform="translate(264.5,1256.5) rotate(408.2)" y="3.8">11</text>
<text transform="translate(222.6,1192.9) rotate(425.0)" y="3.8">12</text>
<text transform="translate(201.6,1125.0) rotate(440.6)" y="3.8">13</text>
<text transform="translate(199.0,1060.8) rotate(274.8)" y="3.8">14</text>
<text transform="translate(211.2,1000.9) rotate(288.2)" y="3.8">15</text>
<text transform="translate(234.7,949.2) rotate(300.7)" y="3.8">16</text>
<text transform="translate(265.1,907.8) rotate(312.0)" y="3.8">17</text>
<text transform="translate(300.5,875.1) rotate(322.6)" y="3.8">18</text>
<text transform="translate(336.3,852.1) rotate(331.9)" y="3.8">19</text>
<text transform="translate(371.7,836.4) rotate(340.4)" y="3.8">20</text>
<text transform="translate(406.2,826.8) rotate(348.3)" y="3.8">21</text>
<text transform="translate(438.8,822.1) rotate(355.5)" y="3.8">22</text>
</g>
<path d="M449.0,902.6A180.1,180.1 0 0 1 454.6,902.6L454.3,892.0A190.6,190.6 0 0 0 448.4,892.2ZM459.7,902.6A180.0,180.0 0 0 1 467.2,902.6L467.7,892.1A190.6,190.6 0 0 0 459.7,891.9ZM612.9,988.3A179.9,179.9 0 0 1 626.0,1016.1L636.4,1011.9A190.6,190.6 0 0 0 621.8,982.8ZM626.7,1147.3A179.5,179.5 0 0 1 617.1,1168.0L626.9,1173.3A190.6,190.6 0 0 0 637.0,1151.3ZM627.0,1147.7A180.2,180.2 0 0 1 605.8,1187.8L614.1,1193.7A190.6,190.6 0 0 0 637.0,1151.5ZM533.6,1245.8A179.3,179.3 0 0 1 516.2,1252.3L519.8,1263.2A190.6,190.6 0 0 0 538.2,1256.0ZM440.1,1260.4A179.0,179.0 0 0 1 430.1,1259.2L428.2,1270.5A190.6,190.6 0 0 0 438.9,1272.0ZM324.0,1201.4A179.6,179.6 0 0 1 311.7,1183.6L302.1,1190.2A190.6,190.6 0 0 0 316.1,1208.3ZM306.8,1181.1A180.9,180.9 0 0 1 297.7,1162.2L288.4,1166.8A190.6,190.6 0 0 0 299.2,1186.0ZM317.2,973.2A179.8,179.8 0 0 1 324.5,962.8L316.8,955.9A190.6,190.6 0 0 0 308.3,966.3ZM352.0,937.3A180.5,180.5 0 0 1 360.1,931.8L354.5,923.3A190.6,190.6 0 0 0 346.0,929.2ZM379.1,920.6A180.6,180.6 0 0 1 384.3,918.4L380.1,909.1A190.6,190.6 0 0 0 374.7,911.7Z" fill="#c3d6ee" stroke="#c3d6ee" stroke-width="0.6"/>
<path d="M501.9,889.8A198.3,198.3 0 0 1 508.7,889.4L506.5,897.8A190.6,190.6 0 0 0 500.5,896.4ZM508.7,889.4A199.3,199.3 0 0 1 516.7,891.6L514.2,900.0A190.6,190.6 0 0 0 506.5,897.8ZM518.2,886.6A204.7,204.7 0 0 1 522.8,887.7L518.4,901.3A190.6,190.6 0 0 0 514.2,900.0ZM522.8,887.7A204.6,204.6 0 0 1 523.5,888.6L519.2,901.6A190.6,190.6 0 0 0 518.4,901.3ZM523.5,888.6A204.5,204.5 0 0 1 526.5,889.1L521.8,902.4A190.6,190.6 0 0 0 519.2,901.6ZM526.5,889.1A204.8,204.8 0 0 1 530.6,890.4L525.7,903.8A190.6,190.6 0 0 0 521.8,902.4ZM528.9,889.1A204.9,204.9 0 0 1 537.2,893.8L532.0,906.3A190.6,190.6 0 0 0 523.8,903.2ZM537.2,893.8A203.3,203.3 0 0 1 537.8,895.8L533.2,906.8A190.6,190.6 0 0 0 532.0,906.3ZM537.8,895.8A203.6,203.6 0 0 1 544.5,896.4L538.7,909.2A190.6,190.6 0 0 0 533.2,906.8ZM544.5,896.4A204.7,204.7 0 0 1 554.8,901.5L548.3,913.9A190.6,190.6 0 0 0 538.7,909.2ZM658.9,1125.6A204.2,204.2 0 0 1 657.3,1132.2L644.2,1128.9A190.6,190.6 0 0 0 645.6,1122.7ZM603.0,1220.8A199.0,199.0 0 0 1 599.9,1222.6L594.3,1217.1A190.6,190.6 0 0 0 596.7,1214.6ZM558.8,1262.6A204.6,204.6 0 0 1 543.5,1267.7L538.2,1256.0A190.6,190.6 0 0 0 551.5,1249.3ZM307.5,947.7A203.5,203.5 0 0 1 318.1,935.3L327.4,945.0A190.6,190.6 0 0 0 316.8,955.9Z" fill="#f9bfa9" stroke="#f9bfa9" stroke-width="0.6"/>
<path d="M594.7,944.4A193.8,193.8 0 0 1 608.2,958.0L605.5,960.3A190.6,190.6 0 0 0 592.7,946.4ZM608.2,958.0A193.4,193.4 0 0 1 620.5,977.2L618.9,978.3A190.6,190.6 0 0 0 605.5,960.3ZM638.5,1011.1A193.2,193.2 0 0 1 642.7,1020.6L639.9,1021.6A190.6,190.6 0 0 0 636.4,1011.9ZM644.2,1025.1A193.8,193.8 0 0 1 648.4,1039.8L645.2,1040.5A190.6,190.6 0 0 0 641.3,1026.0ZM648.4,1039.8A193.9,193.9 0 0 1 650.6,1051.3L647.4,1051.8A190.6,190.6 0 0 0 645.2,1040.5ZM602.5,1211.4A196.0,196.0 0 0 1 603.0,1220.8L596.7,1214.6A190.6,190.6 0 0 0 601.0,1210.0ZM599.9,1222.6A195.9,195.9 0 0 0 599.1,1216.1L597.1,1214.2A190.6,190.6 0 0 1 594.3,1217.1ZM599.1,1216.1A193.7,193.7 0 0 1 589.4,1226.5L587.1,1223.9A190.6,190.6 0 0 0 597.1,1214.2ZM589.4,1226.5A193.4,193.4 0 0 1 580.1,1232.8L578.7,1231.1A190.6,190.6 0 0 0 587.1,1223.9ZM364.8,1250.0A195.5,195.5 0 0 0 366.3,1258.0L370.0,1250.9A190.6,190.6 0 0 1 365.6,1248.5ZM270.8,1125.9A193.4,193.4 0 0 1 268.2,1112.9L271.1,1112.4A190.6,190.6 0 0 0 273.6,1125.3ZM268.2,1112.9A193.3,193.3 0 0 1 267.0,1099.3L269.4,1099.1A190.6,190.6 0 0 0 271.1,1112.4ZM279.4,1011.6A193.4,193.4 0 0 1 282.4,1004.2L285.0,1005.4A190.6,190.6 0 0 0 282.0,1012.6Z" fill="#fde3da" stroke="#fde3da" stroke-width="0.6"/>
<path d="M384.4,906.8A190.8,190.8 0 0 1 396.1,902.6L395.3,900.3A192.7,192.7 0 0 1 405.8,897.8L406.4,900.0M415.7,897.3L415.0,894.2A192.9,192.9 0 0 1 428.9,892.5L429.3,894.8M442.2,903.3L441.1,890.9A192.3,192.3 0 0 1 448.3,890.7L449.0,902.6A180.1,180.1 0 0 1 454.6,902.6L454.4,895.4M459.7,895.4L459.7,902.6A180.0,180.0 0 0 1 467.2,902.6L467.7,891.9A191.9,191.9 0 0 1 478.4,890.4A193.1,193.1 0 0 1 488.9,891.5A193.0,193.0 0 0 1 498.5,893.8L498.2,895.0L500.8,894.8L501.9,889.8A198.3,198.3 0 0 1 508.7,889.4A199.3,199.3 0 0 1 516.7,891.6L518.2,886.6A204.7,204.7 0 0 1 522.8,887.7L523.5,888.6A204.5,204.5 0 0 1 526.5,889.1A204.8,204.8 0 0 1 530.6,890.4M528.9,889.1A204.9,204.9 0 0 1 537.2,893.8L537.8,895.8A203.6,203.6 0 0 1 544.5,896.4A204.7,204.7 0 0 1 554.8,901.5L548.4,913.7M553.2,917.3L554.2,915.5A192.3,192.3 0 0 1 570.7,925.4A192.8,192.8 0 0 1 583.0,934.4A193.2,193.2 0 0 1 594.7,944.4A193.8,193.8 0 0 1 608.2,958.0A193.7,193.7 0 0 1 614.7,967.4A193.0,193.0 0 0 1 620.5,977.2L618.6,978.4M612.9,988.3A180.1,180.1 0 0 1 620.1,1001.9A179.7,179.7 0 0 1 626.0,1016.1L638.5,1011.1A193.2,193.2 0 0 1 642.7,1020.6A193.1,193.1 0 0 1 645.8,1034.0M638.5,1011.6A193.2,193.2 0 0 1 644.2,1025.1A193.8,193.8 0 0 1 648.4,1039.8A193.9,193.9 0 0 1 650.6,1051.3L647.3,1051.8M647.4,1058.6L650.7,1058.2A192.9,192.9 0 0 1 651.8,1069.8A192.8,192.8 0 0 1 652.1,1081.5A192.9,192.9 0 0 1 652.1,1092.0A193.2,193.2 0 0 1 651.6,1102.4A193.1,193.1 0 0 1 648.9,1118.1A192.6,192.6 0 0 1 647.3,1123.1L658.9,1125.6A204.2,204.2 0 0 1 657.3,1132.2L644.8,1129.0M632.7,1131.5L643.3,1134.5A191.9,191.9 0 0 1 638.8,1152.0L626.7,1147.3A179.5,179.5 0 0 1 622.2,1157.8A179.5,179.5 0 0 1 617.1,1168.0M627.0,1147.7A180.0,180.0 0 0 1 621.1,1161.6A180.2,180.2 0 0 1 614.0,1175.0A180.4,180.4 0 0 1 605.8,1187.8L613.3,1193.1M609.8,1199.9A191.8,191.8 0 0 1 602.5,1211.4A196.0,196.0 0 0 1 603.0,1220.8A199.0,199.0 0 0 1 599.9,1222.6A195.9,195.9 0 0 0 599.1,1216.1A193.7,193.7 0 0 1 589.4,1226.5A193.4,193.4 0 0 1 580.1,1232.8A192.0,192.0 0 0 1 574.8,1234.9A190.2,190.2 0 0 1 566.5,1238.5A190.6,190.6 0 0 1 564.4,1243.0L563.3,1241.3M558.5,1245.4L559.3,1246.8A192.4,192.4 0 0 1 552.3,1250.9L558.8,1262.6A204.6,204.6 0 0 1 543.5,1267.7L533.6,1245.8A179.3,179.3 0 0 1 516.2,1252.3L520.2,1264.4A191.7,191.7 0 0 1 508.0,1267.7M519.5,1264.6A191.5,191.5 0 0 1 507.0,1267.7L509.1,1280.9L505.7,1267.7M499.3,1269.1A191.4,191.4 0 0 1 494.1,1271.4A191.7,191.7 0 0 1 478.4,1272.9A191.8,191.8 0 0 1 468.0,1274.5A192.6,192.6 0 0 1 457.5,1275.6A193.0,193.0 0 0 1 447.1,1275.0A192.8,192.8 0 0 1 443.6,1274.5L443.9,1271.9M438.9,1271.3L440.1,1260.4A179.0,179.0 0 0 1 430.1,1259.2L428.1,1271.3M423.9,1270.9A191.3,191.3 0 0 1 415.8,1268.5A190.7,190.7 0 0 1 400.1,1263.5A190.8,190.8 0 0 1 387.6,1259.7L387.1,1257.8M339.9,1230.1L337.9,1232.6A192.3,192.3 0 0 0 354.9,1243.2A192.0,192.0 0 0 0 364.8,1250.0A195.5,195.5 0 0 0 366.3,1258.0L369.2,1252.4A192.5,192.5 0 0 0 375.7,1256.1A192.0,192.0 0 0 0 382.0,1257.5M334.0,1227.5A191.3,191.3 0 0 1 321.4,1214.5A190.6,190.6 0 0 1 316.3,1208.2L324.0,1201.4A179.9,179.9 0 0 1 317.5,1192.7A179.3,179.3 0 0 1 311.7,1183.6L303.1,1189.5M306.8,1181.1A181.2,181.2 0 0 1 302.0,1171.8A180.6,180.6 0 0 1 297.7,1162.2L286.8,1167.6A192.2,192.2 0 0 1 281.1,1154.0A191.7,191.7 0 0 1 276.6,1140.0L289.0,1136.1M274.0,1127.7L270.8,1125.9A193.4,193.4 0 0 1 268.2,1112.9A193.3,193.3 0 0 1 267.0,1099.3A193.0,193.0 0 0 1 266.6,1092.3L269.0,1092.2M266.4,1079.2A193.2,193.2 0 0 1 266.1,1071.1A193.2,193.2 0 0 1 267.7,1060.7A192.8,192.8 0 0 1 270.0,1046.3L272.4,1046.8M273.8,1032.7A192.6,192.6 0 0 1 277.1,1018.9A193.2,193.2 0 0 1 279.4,1011.6A193.4,193.4 0 0 1 282.4,1004.2L293.9,1009.3M281.8,1005.0A192.7,192.7 0 0 1 286.5,999.7A191.6,191.6 0 0 1 290.1,992.4A192.0,192.0 0 0 1 295.3,982.0A192.5,192.5 0 0 1 299.5,974.7A192.4,192.4 0 0 1 303.2,970.5M309.0,966.8L317.2,973.2A179.8,179.8 0 0 1 324.5,962.8L307.5,947.7A203.5,203.5 0 0 1 318.1,935.3L328.0,945.6M331.9,940.8L331.4,937.6A193.0,193.0 0 0 1 344.7,927.5L352.0,937.3A180.5,180.5 0 0 1 360.1,931.8L355.3,924.6M360.1,918.8A191.5,191.5 0 0 1 367.4,914.4L369.0,912.0A192.5,192.5 0 0 1 374.0,910.3L379.1,920.6A180.6,180.6 0 0 1 384.3,918.4L380.7,910.6" fill="none" stroke="#0a0a0a" stroke-width="1.6" stroke-linejoin="miter"/>
<path d="M379.7,894.3L384.4,906.8M389.7,889.6L400.1,911.5M414.2,889.1L420.5,912.6M467.7,911.5L467.7,891.9M477.4,903.2L478.4,890.7M484.7,905.8L486.3,891.9M518.6,886.7L524.4,866.6M530.6,890.4L535.3,869.8M594.7,944.4L609.8,929.8M612.4,968.9L603.5,976.3M621.3,1008.1L610.9,1012.8M644.8,1039.2L621.3,1044.5M621.3,1120.2L679.7,1130.6M643.7,1128.5L678.7,1137.4M600.4,1192.6L621.3,1207.2M559.2,1230.7L563.3,1240.1M561.8,1229.9L566.0,1238.7M522.6,1262.5L526.8,1275.6M524.7,1262.0L529.4,1275.6M526.8,1261.0L532.5,1275.6M511.1,1240.6L516.9,1252.1M510.6,1272.4L516.9,1293.9M481.6,1247.4L482.6,1272.4M493.0,1262.0L494.1,1270.9M430.9,1246.3L430.9,1259.9M432.5,1246.3L432.5,1259.9M437.7,1247.9L437.9,1259.9M393.3,1262.0L389.7,1275.6M348.6,1224.4L340.2,1246.3M366.4,1234.9L361.1,1244.8M369.5,1236.4L364.3,1245.8M365.3,1250.5L354.3,1271.9M335.0,1226.5L325.1,1239.0M322.5,1196.7L331.9,1188.9M298.5,1163.3L310.0,1157.1M305.8,1180.0L272.4,1202.0M268.2,1099.8L281.3,1099.1M253.6,1078.9L278.7,1078.9M268.2,1074.8L279.7,1074.8M241.1,1024.6L275.0,1034.0M276.1,1028.8L286.0,1031.9M276.1,1030.6L286.5,1034.0M265.6,1011.6L278.7,1015.2M281.8,958.5L313.6,982.5M273.4,965.8L298.5,981.0M277.6,979.4L302.7,992.4M296.4,1001.8L309.4,1008.6M292.2,929.8L315.2,952.8M296.4,938.1L308.9,948.6M363.7,901.6L371.1,925.6M380.2,910.5L387.2,928.7" fill="none" stroke="#0a0a0a" stroke-width="1.3"/>
<path d="M408.5,862.5L414.2,889.1M552.4,905.8L549.2,914.1M618.7,1000.8L607.7,1005.5M552.4,1252.1L556.6,1263.1M554.5,1251.6L558.6,1262.0M425.7,1250.5L424.1,1272.4M413.7,1263.0L406.4,1292.3M284.9,976.8L306.8,989.3M285.9,985.1L304.7,994.5M287.5,998.7L296.4,1002.9" fill="none" stroke="#0a0a0a" stroke-width="2.6"/>
<path d="M591.8,1028.0Q458.5,1105.7 549.0,1194.0M316.7,1075.6Q481.3,1086.3 549.0,1194.0M602.2,1086.5Q463.8,1094.4 599.1,1112.2M602.2,1086.5Q463.8,1094.4 597.0,1120.9M602.2,1086.5Q463.8,1094.4 595.3,1126.6" fill="none" stroke="#9a8fca" stroke-width="2" stroke-linecap="round"/>
<path d="M370.4,1194.0L413.2,1141.4M565.7,1176.3L516.6,1134.5" fill="none" stroke="#77b877" stroke-width="2" stroke-linecap="round"/>
<path d="M695.8,984.5L720.8,974.2M705.6,1152.2L732.1,1159.7M650.7,1252.5L671.3,1270.7M300.3,1283.1L283.5,1304.3M714.7,1089.5L742.8,1090.3M721.1,1090L736.4,1103.2L742.3,1104" fill="none" stroke="#3a3a3a" stroke-width="0.8"/>
<g font-family='"Liberation Serif", "Times New Roman", serif' font-weight="bold" font-size="20" fill="#000"><text transform="translate(724.5,972.7) rotate(-22.5)" y="6.6" text-anchor="start" textLength="73" lengthAdjust="spacing">ROBO1</text><text transform="translate(735.9,1160.8) rotate(15.8)" y="6.6" text-anchor="start" textLength="57" lengthAdjust="spacing">TERT</text><text transform="translate(674.3,1273.4) rotate(41.6)" y="6.6" text-anchor="start" textLength="86" lengthAdjust="spacing">C6orf106</text><text transform="translate(281.0,1307.4) rotate(-51.6)" y="6.6" text-anchor="end" textLength="74" lengthAdjust="spacing">DOCK1</text><text transform="translate(746.4,1090.7) rotate(1.5)" y="6.6" textLength="68" lengthAdjust="spacing">NAA11</text><text transform="translate(745.8,1104.5) rotate(3.8)" y="6.6" textLength="88.5" lengthAdjust="spacing">ANTXR2</text></g>
<text x="456.2" y="1404.8" font-family='"Liberation Sans", Arial, Helvetica, sans-serif' font-size="36.6" fill="#000" text-anchor="middle">NB16</text>
</g>
<g id="plot-KELLY">
<path d="M1190.50,928.30A154.60,154.60 0 0 1 1263.22,946.47M1267.05,948.58A154.60,154.60 0 0 1 1320.24,998.83M1322.57,1002.53A154.60,154.60 0 0 1 1343.18,1058.64M1343.81,1062.97A154.60,154.60 0 0 1 1340.43,1120.59M1339.31,1124.82A154.60,154.60 0 0 1 1315.42,1173.99M1312.79,1177.49A154.60,154.60 0 0 1 1274.74,1212.53M1271.04,1214.87A154.60,154.60 0 0 1 1226.54,1233.24M1222.27,1234.20A154.60,154.60 0 0 1 1178.05,1237.00M1173.70,1236.58A154.60,154.60 0 0 1 1132.24,1226.10M1128.22,1224.40A154.60,154.60 0 0 1 1093.17,1203.02M1089.81,1200.22A154.60,154.60 0 0 1 1062.58,1169.72M1060.17,1166.07A154.60,154.60 0 0 1 1043.04,1129.33M1041.78,1125.13A154.60,154.60 0 0 1 1036.10,1090.69M1035.94,1086.32A154.60,154.60 0 0 1 1038.65,1053.88M1039.53,1049.60A154.60,154.60 0 0 1 1049.25,1020.06M1051.08,1016.09A154.60,154.60 0 0 1 1065.07,992.52M1067.68,989.01A154.60,154.60 0 0 1 1084.15,970.69M1087.37,967.73A154.60,154.60 0 0 1 1106.18,953.32M1109.88,950.98A154.60,154.60 0 0 1 1125.71,942.53M1129.71,940.75A154.60,154.60 0 0 1 1147.73,934.33M1151.96,933.18A154.60,154.60 0 0 1 1166.27,930.21M1170.60,929.59A154.60,154.60 0 0 1 1186.12,928.36" fill="none" stroke="#f3efef" stroke-width="1.1"/>
<path d="M1190.50,916.60A166.30,166.30 0 0 1 1268.72,936.15M1272.85,938.42A166.30,166.30 0 0 1 1330.06,992.47M1332.57,996.45A166.30,166.30 0 0 1 1354.74,1056.80M1355.41,1061.46A166.30,166.30 0 0 1 1351.78,1123.45M1350.57,1127.99A166.30,166.30 0 0 1 1324.87,1180.88M1322.04,1184.64A166.30,166.30 0 0 1 1281.11,1222.35M1277.13,1224.85A166.30,166.30 0 0 1 1229.27,1244.62M1224.67,1245.65A166.30,166.30 0 0 1 1177.11,1248.66M1172.43,1248.21A166.30,166.30 0 0 1 1127.84,1236.94M1123.50,1235.11A166.30,166.30 0 0 1 1085.81,1212.11M1082.19,1209.10A166.30,166.30 0 0 1 1052.90,1176.29M1050.31,1172.36A166.30,166.30 0 0 1 1031.88,1132.84M1030.53,1128.33A166.30,166.30 0 0 1 1024.41,1091.28M1024.24,1086.58A166.30,166.30 0 0 1 1027.16,1051.69M1028.10,1047.08A166.30,166.30 0 0 1 1038.56,1015.31M1040.53,1011.04A166.30,166.30 0 0 1 1055.58,985.68M1058.38,981.90A166.30,166.30 0 0 1 1076.10,962.20M1079.56,959.01A166.30,166.30 0 0 1 1099.80,943.51M1103.78,941.00A166.30,166.30 0 0 1 1120.81,931.91M1125.11,929.99A166.30,166.30 0 0 1 1144.50,923.09M1149.04,921.85A166.30,166.30 0 0 1 1164.43,918.66M1169.09,917.98A166.30,166.30 0 0 1 1185.79,916.67" fill="none" stroke="#f3efef" stroke-width="1.1"/>
<path d="M1190.50,869.40A213.50,213.50 0 0 1 1290.93,894.49M1296.22,897.41A213.50,213.50 0 0 1 1369.67,966.80M1372.89,971.92A213.50,213.50 0 0 1 1401.35,1049.40M1402.22,1055.38A213.50,213.50 0 0 1 1397.56,1134.95M1396.00,1140.79A213.50,213.50 0 0 1 1363.01,1208.69M1359.38,1213.52A213.50,213.50 0 0 1 1306.83,1261.92M1301.72,1265.14A213.50,213.50 0 0 1 1240.27,1290.52M1234.37,1291.84A213.50,213.50 0 0 1 1173.31,1295.71M1167.30,1295.14A213.50,213.50 0 0 1 1110.05,1280.66M1104.49,1278.31A213.50,213.50 0 0 1 1056.10,1248.78M1051.46,1244.91A213.50,213.50 0 0 1 1013.85,1202.80M1010.52,1197.75A213.50,213.50 0 0 1 986.85,1147.01M985.12,1141.22A213.50,213.50 0 0 1 977.27,1093.66M977.05,1087.62A213.50,213.50 0 0 1 980.79,1042.83M982.01,1036.91A213.50,213.50 0 0 1 995.43,996.13M997.96,990.64A213.50,213.50 0 0 1 1017.28,958.09M1020.88,953.24A213.50,213.50 0 0 1 1043.63,927.94M1048.08,923.85A213.50,213.50 0 0 1 1074.05,903.95M1079.17,900.73A213.50,213.50 0 0 1 1101.03,889.05M1106.55,886.60A213.50,213.50 0 0 1 1131.44,877.73M1137.27,876.14A213.50,213.50 0 0 1 1157.03,872.04M1163.01,871.18A213.50,213.50 0 0 1 1184.46,869.49" fill="none" stroke="#f3efef" stroke-width="1.1"/>
<path d="M1190.50,857.70A225.20,225.20 0 0 1 1296.43,884.17M1302.01,887.25A225.20,225.20 0 0 1 1379.49,960.44M1382.88,965.84A225.20,225.20 0 0 1 1412.91,1047.56M1413.82,1053.87A225.20,225.20 0 0 1 1408.90,1137.81M1407.26,1143.96A225.20,225.20 0 0 1 1372.46,1215.58M1368.63,1220.68A225.20,225.20 0 0 1 1313.21,1271.73M1307.81,1275.13A225.20,225.20 0 0 1 1243.00,1301.90M1236.78,1303.29A225.20,225.20 0 0 1 1172.37,1307.37M1166.02,1306.77A225.20,225.20 0 0 1 1105.64,1291.50M1099.77,1289.02A225.20,225.20 0 0 1 1048.73,1257.88M1043.84,1253.79A225.20,225.20 0 0 1 1004.16,1209.37M1000.66,1204.04A225.20,225.20 0 0 1 975.69,1150.53M973.87,1144.42A225.20,225.20 0 0 1 965.59,1094.25M965.36,1087.88A225.20,225.20 0 0 1 969.30,1040.63M970.59,1034.39A225.20,225.20 0 0 1 984.74,991.37M987.41,985.58A225.20,225.20 0 0 1 1007.79,951.25M1011.59,946.13A225.20,225.20 0 0 1 1035.59,919.45M1040.27,915.13A225.20,225.20 0 0 1 1067.67,894.14M1073.06,890.74A225.20,225.20 0 0 1 1096.13,878.43M1101.95,875.84A225.20,225.20 0 0 1 1128.21,866.49M1134.35,864.81A225.20,225.20 0 0 1 1155.20,860.48M1161.51,859.57A225.20,225.20 0 0 1 1184.13,857.79" fill="none" stroke="#f3efef" stroke-width="1.1"/>
<path d="M1190.50,881.20A201.70,201.70 0 0 1 1285.37,904.91M1290.37,907.66A201.70,201.70 0 0 1 1359.77,973.22M1362.81,978.05A201.70,201.70 0 0 1 1389.70,1051.25M1390.52,1056.90A201.70,201.70 0 0 1 1386.11,1132.08M1384.64,1137.59A201.70,201.70 0 0 1 1353.47,1201.74M1350.04,1206.30A201.70,201.70 0 0 1 1300.40,1252.03M1295.57,1255.07A201.70,201.70 0 0 1 1237.52,1279.04M1231.95,1280.30A201.70,201.70 0 0 1 1174.26,1283.95M1168.58,1283.41A201.70,201.70 0 0 1 1114.50,1269.73M1109.24,1267.51A201.70,201.70 0 0 1 1063.52,1239.62M1059.14,1235.96A201.70,201.70 0 0 1 1023.61,1196.17M1020.47,1191.40A201.70,201.70 0 0 1 998.11,1143.47M996.47,1138.00A201.70,201.70 0 0 1 989.06,1093.07M988.85,1087.36A201.70,201.70 0 0 1 992.38,1045.05M993.53,1039.45A201.70,201.70 0 0 1 1006.21,1000.92M1008.60,995.74A201.70,201.70 0 0 1 1026.86,964.99M1030.26,960.40A201.70,201.70 0 0 1 1051.75,936.50M1055.95,932.64A201.70,201.70 0 0 1 1080.49,913.84M1085.32,910.80A201.70,201.70 0 0 1 1105.98,899.76M1111.19,897.45A201.70,201.70 0 0 1 1134.71,889.07M1140.21,887.57A201.70,201.70 0 0 1 1158.88,883.69M1164.53,882.88A201.70,201.70 0 0 1 1184.79,881.28" fill="none" stroke="#e8775c" stroke-width="1.25"/>
<path d="M1190.50,905.10A177.80,177.80 0 0 1 1274.13,926.00M1278.54,928.43A177.80,177.80 0 0 1 1339.71,986.21M1342.39,990.47A177.80,177.80 0 0 1 1366.10,1055.00M1366.82,1059.98A177.80,177.80 0 0 1 1362.93,1126.25M1361.64,1131.11A177.80,177.80 0 0 1 1334.16,1187.66M1331.14,1191.68A177.80,177.80 0 0 1 1287.38,1231.99M1283.12,1234.67A177.80,177.80 0 0 1 1231.95,1255.80M1227.04,1256.91A177.80,177.80 0 0 1 1176.19,1260.12M1171.18,1259.65A177.80,177.80 0 0 1 1123.50,1247.59M1118.87,1245.63A177.80,177.80 0 0 1 1078.57,1221.05M1074.71,1217.82A177.80,177.80 0 0 1 1043.38,1182.75M1040.62,1178.55A177.80,177.80 0 0 1 1020.91,1136.29M1019.46,1131.47A177.80,177.80 0 0 1 1012.93,1091.86M1012.74,1086.83A177.80,177.80 0 0 1 1015.86,1049.53M1016.87,1044.60A177.80,177.80 0 0 1 1028.05,1010.64M1030.16,1006.07A177.80,177.80 0 0 1 1046.25,978.96M1049.25,974.92A177.80,177.80 0 0 1 1068.19,953.85M1071.89,950.44A177.80,177.80 0 0 1 1093.53,933.87M1097.78,931.19A177.80,177.80 0 0 1 1115.99,921.46M1120.59,919.42A177.80,177.80 0 0 1 1141.32,912.04M1146.17,910.71A177.80,177.80 0 0 1 1162.63,907.30M1167.61,906.58A177.80,177.80 0 0 1 1185.47,905.17" fill="none" stroke="#6fa8cf" stroke-width="1.25"/>
<path d="M1190.50,831.50A251.40,251.40 0 0 1 1308.75,861.05L1302.17,873.40A237.40,237.40 0 0 0 1190.50,845.50Z" fill="#996600" stroke="rgba(60,60,60,0.35)" stroke-width="0.6"/>
<path d="M1314.98,864.48A251.40,251.40 0 0 1 1401.48,946.19L1389.73,953.80A237.40,237.40 0 0 0 1308.05,876.65Z" fill="#666600" stroke="rgba(60,60,60,0.35)" stroke-width="0.6"/>
<path d="M1405.26,952.22A251.40,251.40 0 0 1 1438.79,1043.45L1424.96,1045.64A237.40,237.40 0 0 0 1393.30,959.49Z" fill="#99991e" stroke="rgba(60,60,60,0.35)" stroke-width="0.6"/>
<path d="M1439.80,1050.49A251.40,251.40 0 0 1 1434.31,1144.19L1420.74,1140.78A237.40,237.40 0 0 0 1425.92,1052.29Z" fill="#cc0000" stroke="rgba(60,60,60,0.35)" stroke-width="0.6"/>
<path d="M1432.48,1151.07A251.40,251.40 0 0 1 1393.63,1231.02L1382.32,1222.77A237.40,237.40 0 0 0 1419.01,1147.27Z" fill="#ff0000" stroke="rgba(60,60,60,0.35)" stroke-width="0.6"/>
<path d="M1389.36,1236.71A251.40,251.40 0 0 1 1327.48,1293.70L1319.85,1281.96A237.40,237.40 0 0 0 1378.28,1228.14Z" fill="#ff00cc" stroke="rgba(60,60,60,0.35)" stroke-width="0.6"/>
<path d="M1321.46,1297.49A251.40,251.40 0 0 1 1249.10,1327.37L1245.84,1313.76A237.40,237.40 0 0 0 1314.17,1285.54Z" fill="#ffcccc" stroke="rgba(60,60,60,0.35)" stroke-width="0.6"/>
<path d="M1242.16,1328.93A251.40,251.40 0 0 1 1170.26,1333.48L1171.39,1319.53A237.40,237.40 0 0 0 1239.28,1315.23Z" fill="#ff9900" stroke="rgba(60,60,60,0.35)" stroke-width="0.6"/>
<path d="M1163.18,1332.81A251.40,251.40 0 0 1 1095.77,1315.77L1101.04,1302.80A237.40,237.40 0 0 0 1164.70,1318.89Z" fill="#ffcc00" stroke="rgba(60,60,60,0.35)" stroke-width="0.6"/>
<path d="M1089.22,1313.00A251.40,251.40 0 0 1 1032.24,1278.23L1041.05,1267.35A237.40,237.40 0 0 0 1094.86,1300.18Z" fill="#ffff00" stroke="rgba(60,60,60,0.35)" stroke-width="0.6"/>
<path d="M1026.77,1273.68A251.40,251.40 0 0 1 982.49,1224.08L994.07,1216.22A237.40,237.40 0 0 0 1035.89,1263.05Z" fill="#ccff00" stroke="rgba(60,60,60,0.35)" stroke-width="0.6"/>
<path d="M978.57,1218.14A251.40,251.40 0 0 1 950.70,1158.39L964.06,1154.19A237.40,237.40 0 0 0 990.38,1210.61Z" fill="#00ff00" stroke="rgba(60,60,60,0.35)" stroke-width="0.6"/>
<path d="M948.66,1151.58A251.40,251.40 0 0 1 939.42,1095.57L953.40,1094.86A237.40,237.40 0 0 0 962.13,1147.75Z" fill="#358000" stroke="rgba(60,60,60,0.35)" stroke-width="0.6"/>
<path d="M939.16,1088.46A251.40,251.40 0 0 1 943.57,1035.72L957.32,1038.34A237.40,237.40 0 0 0 953.16,1088.15Z" fill="#0000cc" stroke="rgba(60,60,60,0.35)" stroke-width="0.6"/>
<path d="M945.00,1028.75A251.40,251.40 0 0 1 960.80,980.72L973.59,986.41A237.40,237.40 0 0 0 958.67,1031.76Z" fill="#6699ff" stroke="rgba(60,60,60,0.35)" stroke-width="0.6"/>
<path d="M963.78,974.26A251.40,251.40 0 0 1 986.53,935.93L997.89,944.12A237.40,237.40 0 0 0 976.41,980.31Z" fill="#99ccff" stroke="rgba(60,60,60,0.35)" stroke-width="0.6"/>
<path d="M990.77,930.22A251.40,251.40 0 0 1 1017.56,900.43L1027.19,910.59A237.40,237.40 0 0 0 1001.90,938.72Z" fill="#00ffff" stroke="rgba(60,60,60,0.35)" stroke-width="0.6"/>
<path d="M1022.80,895.61A251.40,251.40 0 0 1 1053.38,872.18L1061.02,883.92A237.40,237.40 0 0 0 1032.13,906.04Z" fill="#ccffff" stroke="rgba(60,60,60,0.35)" stroke-width="0.6"/>
<path d="M1059.40,868.39A251.40,251.40 0 0 1 1085.15,854.64L1091.02,867.35A237.40,237.40 0 0 0 1066.70,880.33Z" fill="#9900cc" stroke="rgba(60,60,60,0.35)" stroke-width="0.6"/>
<path d="M1091.65,851.75A251.40,251.40 0 0 1 1120.96,841.31L1124.83,854.76A237.40,237.40 0 0 0 1097.16,864.62Z" fill="#cc33ff" stroke="rgba(60,60,60,0.35)" stroke-width="0.6"/>
<path d="M1127.82,839.44A251.40,251.40 0 0 1 1151.09,834.61L1153.29,848.43A237.40,237.40 0 0 0 1131.31,853.00Z" fill="#cc99ff" stroke="rgba(60,60,60,0.35)" stroke-width="0.6"/>
<path d="M1158.13,833.59A251.40,251.40 0 0 1 1183.39,831.60L1183.78,845.60A237.40,237.40 0 0 0 1159.94,847.48Z" fill="#666666" stroke="rgba(60,60,60,0.35)" stroke-width="0.6"/>
<g font-family='"Liberation Serif", "Times New Roman", serif' font-size="12" fill="#111" text-anchor="middle">
<text transform="translate(1253.8,829.5) rotate(14.0)" y="3.8">1</text>
<text transform="translate(1369.9,893.0) rotate(43.4)" y="3.8">2</text>
<text transform="translate(1435.7,992.8) rotate(69.8)" y="3.8">3</text>
<text transform="translate(1451.3,1098.2) rotate(273.4)" y="3.8">4</text>
<text transform="translate(1425.4,1197.1) rotate(295.9)" y="3.8">5</text>
<text transform="translate(1367.5,1275.0) rotate(317.4)" y="3.8">6</text>
<text transform="translate(1290.2,1324.3) rotate(337.6)" y="3.8">7</text>
<text transform="translate(1207.0,1343.6) rotate(356.4)" y="3.8">8</text>
<text transform="translate(1126.5,1336.1) rotate(374.2)" y="3.8">9</text>
<text transform="translate(1054.5,1305.9) rotate(391.4)" y="3.8">10</text>
<text transform="translate(995.7,1256.9) rotate(408.2)" y="3.8">11</text>
<text transform="translate(953.8,1193.3) rotate(425.0)" y="3.8">12</text>
<text transform="translate(932.8,1125.4) rotate(440.6)" y="3.8">13</text>
<text transform="translate(930.2,1061.2) rotate(274.8)" y="3.8">14</text>
<text transform="translate(942.4,1001.3) rotate(288.2)" y="3.8">15</text>
<text transform="translate(965.9,949.6) rotate(300.7)" y="3.8">16</text>
<text transform="translate(996.3,908.2) rotate(312.0)" y="3.8">17</text>
<text transform="translate(1031.7,875.5) rotate(322.6)" y="3.8">18</text>
<text transform="translate(1067.5,852.5) rotate(331.9)" y="3.8">19</text>
<text transform="translate(1102.9,836.8) rotate(340.4)" y="3.8">20</text>
<text transform="translate(1137.4,827.2) rotate(348.3)" y="3.8">21</text>
<text transform="translate(1170.0,822.5) rotate(355.5)" y="3.8">22</text>
</g>
<path d="M1130.3,892.4A199.7,199.7 0 0 1 1135.8,890.9L1138.3,899.6A190.6,190.6 0 0 0 1133.0,901.2ZM1171.3,884.7A199.2,199.2 0 0 1 1177.1,884.2L1177.7,892.7A190.6,190.6 0 0 0 1172.1,893.2ZM1177.1,884.2A199.8,199.8 0 0 1 1184.6,882.5L1184.9,892.4A190.6,190.6 0 0 0 1177.7,892.7ZM1229.4,883.9A202.7,202.7 0 0 1 1236.2,885.5L1233.5,897.2A190.6,190.6 0 0 0 1227.0,895.8ZM1238.6,875.5A213.1,213.1 0 0 1 1251.0,878.3L1244.5,900.1A190.6,190.6 0 0 0 1233.5,897.2ZM1247.4,890.4A201.4,201.4 0 0 1 1260.6,893.3L1256.6,904.1A190.6,190.6 0 0 0 1244.5,900.1ZM1260.6,893.3A203.3,203.3 0 0 1 1274.0,896.4L1268.4,908.9A190.6,190.6 0 0 0 1256.6,904.1ZM1274.0,897.9A202.1,202.1 0 0 1 1284.4,905.0L1279.5,914.3A190.6,190.6 0 0 0 1268.9,909.2ZM1292.7,908.5A202.2,202.2 0 0 1 1301.7,913.9L1295.2,923.7A190.6,190.6 0 0 0 1286.9,918.5ZM1301.7,913.9A202.3,202.3 0 0 1 1306.3,917.0L1299.6,926.6A190.6,190.6 0 0 0 1295.2,923.7ZM1381.9,1019.6A201.2,201.2 0 0 1 1385.2,1034.0L1375.4,1036.5A190.6,190.6 0 0 0 1371.5,1023.1ZM1385.2,1034.0A202.3,202.3 0 0 1 1389.9,1039.8L1376.8,1042.6A190.6,190.6 0 0 0 1375.4,1036.5ZM1389.9,1039.8A203.6,203.6 0 0 1 1391.2,1050.4L1378.7,1052.5A190.6,190.6 0 0 0 1376.8,1042.6ZM1295.9,1255.4A202.8,202.8 0 0 1 1286.0,1262.5L1280.0,1251.2A190.6,190.6 0 0 0 1289.9,1245.5ZM1286.0,1262.5A201.7,201.7 0 0 1 1275.5,1263.8L1271.6,1255.4A190.6,190.6 0 0 0 1280.0,1251.2ZM1275.5,1263.8A200.2,200.2 0 0 1 1268.2,1267.7L1264.4,1258.6A190.6,190.6 0 0 0 1271.6,1255.4ZM1268.2,1267.7A200.1,200.1 0 0 1 1259.9,1270.0L1256.8,1261.6A190.6,190.6 0 0 0 1264.4,1258.6ZM1259.9,1270.0A200.0,200.0 0 0 1 1259.6,1270.9L1256.2,1261.8A190.6,190.6 0 0 0 1256.8,1261.6ZM1253.7,1272.6A200.6,200.6 0 0 1 1245.3,1276.6L1242.3,1266.3A190.6,190.6 0 0 0 1250.8,1263.7ZM1245.3,1276.6A201.3,201.3 0 0 1 1239.0,1278.2L1236.4,1267.9A190.6,190.6 0 0 0 1242.3,1266.3ZM1239.0,1278.2A202.1,202.1 0 0 0 1239.9,1279.7L1236.9,1267.8A190.6,190.6 0 0 1 1236.4,1267.9ZM1041.6,947.7A201.1,201.1 0 0 1 1052.0,937.0L1059.3,944.7A190.6,190.6 0 0 0 1049.4,954.8Z" fill="#f9bfa9" stroke="#f9bfa9" stroke-width="0.6"/>
<path d="M1303.5,943.7A179.0,179.0 0 0 1 1323.9,964.0L1332.8,956.1A190.6,190.6 0 0 0 1310.6,934.9ZM1367.4,1059.7A178.2,178.2 0 0 1 1367.4,1063.8L1380.0,1062.4A190.6,190.6 0 0 0 1379.5,1058.1ZM1251.5,1248.8A176.6,176.6 0 0 1 1246.3,1250.3L1250.8,1263.7A190.6,190.6 0 0 0 1256.2,1261.8ZM1147.7,1255.6A177.5,177.5 0 0 1 1129.9,1249.4L1125.3,1262.0A190.6,190.6 0 0 0 1144.6,1267.9ZM1074.4,1217.3A177.9,177.9 0 0 1 1069.0,1213.3L1060.6,1222.4A190.6,190.6 0 0 0 1065.9,1227.1ZM1046.6,1188.0A178.7,178.7 0 0 1 1042.0,1183.2L1032.6,1189.6A190.6,190.6 0 0 0 1036.6,1195.3ZM1015.4,1049.3A177.8,177.8 0 0 0 1014.8,1058.9L1001.6,1057.1A190.6,190.6 0 0 1 1003.3,1047.0ZM1070.4,947.9A180.4,180.4 0 0 1 1073.2,946.1L1066.4,938.2A190.6,190.6 0 0 0 1063.8,940.5ZM1076.8,943.6A179.6,179.6 0 0 1 1079.5,942.0L1072.5,933.2A190.6,190.6 0 0 0 1070.0,935.2ZM1083.2,939.3A179.4,179.4 0 0 1 1085.9,937.0L1079.5,928.0A190.6,190.6 0 0 0 1076.4,930.2Z" fill="#c3d6ee" stroke="#c3d6ee" stroke-width="0.6"/>
<path d="M1115.5,907.9A190.0,190.0 0 0 1 1124.9,905.1A189.5,189.5 0 0 1 1133.4,902.3L1130.3,892.4A199.7,199.7 0 0 1 1135.8,890.9L1138.4,899.8M1104.0,914.1A188.9,188.9 0 0 1 1110.0,912.7L1111.0,914.8M1148.4,897.1A190.2,190.2 0 0 1 1160.7,895.3L1160.1,891.2M1172.2,894.3L1171.3,884.7A199.2,199.2 0 0 1 1177.1,884.2A199.8,199.8 0 0 1 1184.6,882.5L1184.9,893.6M1191.1,883.3L1191.0,894.3A189.2,189.2 0 0 1 1208.4,894.0A190.4,190.4 0 0 1 1227.1,895.3L1229.4,883.9A202.7,202.7 0 0 1 1236.2,885.5L1238.6,875.5A213.1,213.1 0 0 1 1251.0,878.3L1247.4,890.4A201.4,201.4 0 0 1 1260.6,893.3A203.3,203.3 0 0 1 1274.0,896.4M1274.0,897.9A202.1,202.1 0 0 1 1284.4,905.0L1279.7,913.9M1284.9,917.5L1287.6,917.1L1292.7,908.5A202.2,202.2 0 0 1 1301.7,913.9A202.3,202.3 0 0 1 1306.3,917.0L1299.3,927.0A190.1,190.1 0 0 1 1310.3,935.2L1303.5,943.7A179.1,179.1 0 0 1 1314.1,953.4A178.8,178.8 0 0 1 1323.9,964.0L1332.2,956.7A190.9,190.9 0 0 1 1343.4,966.9A191.8,191.8 0 0 1 1348.6,974.7A191.6,191.6 0 0 1 1351.1,978.7L1353.5,977.2M1358.3,980.4L1353.1,983.6A189.7,189.7 0 0 1 1358.0,995.6A190.1,190.1 0 0 1 1367.4,1010.2A190.8,190.8 0 0 1 1371.2,1023.2L1381.9,1019.6A201.2,201.2 0 0 1 1385.2,1034.0M1385.2,1034.0A202.3,202.3 0 0 1 1389.9,1039.8A203.6,203.6 0 0 1 1391.2,1050.4L1377.8,1052.6M1379.4,1058.1L1367.4,1059.7A178.2,178.2 0 0 1 1367.4,1063.8L1379.4,1062.5A190.2,190.2 0 0 1 1380.7,1075.8A190.5,190.5 0 0 1 1381.0,1092.0A190.3,190.3 0 0 1 1379.4,1102.4A189.8,189.8 0 0 1 1377.9,1112.9A189.7,189.7 0 0 1 1375.8,1123.3A189.7,189.7 0 0 1 1374.7,1128.5M1374.7,1134.3L1372.6,1135.0A190.1,190.1 0 0 1 1371.1,1144.2A191.0,191.0 0 0 1 1367.9,1154.6A191.6,191.6 0 0 1 1363.8,1165.1A191.8,191.8 0 0 1 1362.5,1168.0M1371.1,1142.4A190.7,190.7 0 0 1 1368.5,1152.9A191.1,191.1 0 0 1 1362.2,1166.5A190.2,190.2 0 0 1 1353.9,1179.0A188.9,188.9 0 0 1 1346.6,1188.4A189.1,189.1 0 0 1 1344.7,1193.6L1342.9,1193.8M1340.3,1198.8A189.5,189.5 0 0 1 1337.2,1203.0A188.6,188.6 0 0 1 1333.0,1205.1A188.6,188.6 0 0 1 1327.8,1213.4A189.1,189.1 0 0 1 1322.5,1217.8A188.7,188.7 0 0 1 1312.1,1227.0A188.3,188.3 0 0 1 1297.5,1237.5A189.7,189.7 0 0 1 1295.4,1243.0L1294.3,1241.3M1289.6,1245.1L1295.9,1255.4A202.8,202.8 0 0 1 1286.0,1262.5A201.7,201.7 0 0 1 1275.5,1263.8A200.2,200.2 0 0 1 1268.2,1267.7A200.1,200.1 0 0 1 1259.9,1270.0L1259.6,1270.9L1251.5,1248.8A176.6,176.6 0 0 1 1246.3,1250.3L1253.7,1272.6A200.6,200.6 0 0 1 1245.3,1276.6A201.3,201.3 0 0 1 1239.0,1278.2M1239.0,1278.2L1239.9,1279.7L1233.7,1255.1M1229.8,1271.2L1229.3,1268.8A189.7,189.7 0 0 1 1225.1,1269.3A188.7,188.7 0 0 1 1212.6,1269.5A188.2,188.2 0 0 1 1199.0,1271.2A189.0,189.0 0 0 1 1190.6,1272.4A189.8,189.8 0 0 1 1178.1,1272.6A190.4,190.4 0 0 1 1174.7,1272.9L1174.5,1276.1M1170.0,1271.4A189.6,189.6 0 0 1 1155.1,1269.1A188.9,188.9 0 0 1 1145.2,1265.6L1147.7,1255.6A177.7,177.7 0 0 1 1138.7,1252.7A177.4,177.4 0 0 1 1129.9,1249.4L1126.1,1260.0A189.0,189.0 0 0 1 1119.6,1258.6M1112.3,1259.8L1113.4,1257.2A189.6,189.6 0 0 1 1109.9,1253.3A188.9,188.9 0 0 1 1103.1,1250.8L1101.5,1254.0A192.8,192.8 0 0 1 1098.2,1252.1A190.9,190.9 0 0 1 1095.3,1246.3A188.8,188.8 0 0 1 1085.9,1239.6A188.9,188.9 0 0 1 1079.6,1236.4A189.3,189.3 0 0 1 1071.4,1229.9L1077.0,1222.9M1066.5,1226.5L1074.4,1217.3A177.9,177.9 0 0 1 1069.0,1213.3L1061.0,1222.0A189.6,189.6 0 0 1 1054.5,1214.5A189.8,189.8 0 0 1 1048.3,1209.5A189.4,189.4 0 0 1 1038.4,1194.0L1046.6,1188.0A178.7,178.7 0 0 1 1042.0,1183.2L1033.6,1188.9M1028.0,1186.4L1030.7,1184.7A188.9,188.9 0 0 1 1029.5,1180.6A188.4,188.4 0 0 1 1020.1,1163.3A188.8,188.8 0 0 1 1012.8,1147.7A189.3,189.3 0 0 1 1009.7,1139.6L1021.6,1135.9M1008.5,1127.2L1006.1,1127.8A189.8,189.8 0 0 1 1003.9,1118.1A190.3,190.3 0 0 1 1000.8,1102.4A191.0,191.0 0 0 1 999.7,1097.2A191.6,191.6 0 0 1 998.9,1092.4L996.4,1092.6M1002.9,1079.1L1001.0,1079.1A189.6,189.6 0 0 1 1001.3,1071.1A189.6,189.6 0 0 1 1002.4,1058.6A190.3,190.3 0 0 1 1003.1,1046.9L1015.4,1049.3A177.8,177.8 0 0 0 1014.8,1058.9L1002.9,1057.3M1009.6,1034.6L1007.1,1033.9A190.0,190.0 0 0 1 1008.1,1029.3A190.2,190.2 0 0 1 1011.2,1018.9A190.9,190.9 0 0 1 1015.4,1005.3A191.7,191.7 0 0 1 1017.5,1000.1M1019.2,1000.6L1022.4,999.7A187.9,187.9 0 0 1 1026.3,990.9A189.4,189.4 0 0 1 1031.6,977.8A190.5,190.5 0 0 1 1033.7,974.9A189.9,189.9 0 0 1 1036.6,972.6M1039.4,967.9A189.1,189.1 0 0 1 1043.1,965.8A188.8,188.8 0 0 1 1044.6,962.2A188.6,188.6 0 0 1 1048.8,959.5A188.9,188.9 0 0 1 1049.9,955.2L1041.6,947.7A201.1,201.1 0 0 1 1052.0,937.0L1059.6,945.0M1064.2,940.9L1070.4,947.9A180.4,180.4 0 0 1 1073.2,946.1L1067.1,939.0A189.3,189.3 0 0 1 1070.9,936.3L1076.8,943.6A179.6,179.6 0 0 1 1079.5,942.0L1073.4,934.3A188.9,188.9 0 0 1 1077.6,931.8L1083.2,939.3A179.4,179.4 0 0 1 1085.9,937.0L1080.0,928.8A189.8,189.8 0 0 1 1086.4,924.0M1091.6,921.4A188.6,188.6 0 0 1 1096.3,920.4A188.9,188.9 0 0 1 1098.9,916.4A189.1,189.1 0 0 1 1102.8,916.4A188.8,188.8 0 0 1 1106.7,913.1A188.4,188.4 0 0 1 1111.5,913.0L1110.5,910.9" fill="none" stroke="#0a0a0a" stroke-width="1.6" stroke-linejoin="miter"/>
<path d="M1131.7,880.7L1135.3,890.7M1125.9,901.1L1126.5,908.9M1143.7,878.1L1152.0,912.1M1191.2,894.3L1191.2,904.2M1229.8,883.3L1233.0,866.6M1252.3,878.1L1255.4,866.6M1198.5,894.8L1198.5,910.5M1216.8,894.8L1214.7,912.6M1243.9,900.1L1242.9,903.4M1296.4,907.9L1308.4,891.1M1299.6,925.6L1311.1,907.9M1301.7,927.7L1306.9,918.3M1316.3,958.0L1309.0,966.3M1357.0,994.5L1347.6,998.7M1371.6,1022.2L1348.6,1030.0M1381.0,1075.8L1397.7,1075.8M1368.5,1093.2L1379.4,1093.2M1363.2,1122.8L1381.5,1124.4M1374.7,1128.5L1409.7,1137.4M1363.2,1148.9L1381.5,1152.0M1333.5,1180.0L1344.5,1188.4M1328.8,1216.6L1352.3,1239.6M1288.1,1228.1L1295.4,1240.6M1283.9,1262.5L1284.9,1265.9M1288.1,1261.5L1289.1,1264.8M1262.5,1254.2L1263.0,1257.3M1223.0,1257.8L1224.6,1268.8M1213.6,1258.3L1214.1,1269.3M1190.6,1267.2L1190.8,1272.9M1168.2,1248.4L1167.7,1270.9M1135.3,1253.1L1133.2,1263.5M1143.6,1266.2L1136.8,1301.7M1097.4,1242.2L1082.7,1276.1M1048.3,1209.8L1043.1,1215.0M1002.9,1052.3L1014.9,1053.1M968.4,1078.9L1002.9,1079.2M975.7,1025.7L1007.6,1034.0M1022.7,999.0L1038.4,1007.4M1022.2,999.7L1038.4,1007.1M1004.4,986.7L1021.1,995.6M1007.0,984.1L1023.2,992.4M1012.8,982.5L1026.3,990.9M1022.2,934.0L1048.3,956.9M1023.2,943.4L1044.1,958.0M1079.1,911.5L1090.6,946.0M1086.4,923.5L1090.0,935.0" fill="none" stroke="#0a0a0a" stroke-width="1.3"/>
<path d="M1138.5,863.5L1146.3,894.8M1190.9,883.3L1191.2,894.8M1157.2,1247.9L1156.2,1269.3" fill="none" stroke="#0a0a0a" stroke-width="2.6"/>
<path d="M1084.3,986.8Q1187.3,1077.8 1080.6,1174.1M1268.1,962.1Q1195.4,1074.5 1327.4,1121.5" fill="none" stroke="#9a8fca" stroke-width="2" stroke-linecap="round"/>
<path d="M1205.5,941.2L1198.6,1007.7" fill="none" stroke="#77b877" stroke-width="2" stroke-linecap="round"/>
<path d="M1218.1,828.4L1221.1,801.6M1000.6,911.3L981.3,893.8M1436.9,1152.4L1463.4,1159.9" fill="none" stroke="#3a3a3a" stroke-width="0.8"/>
<g font-family='"Liberation Serif", "Times New Roman", serif' font-weight="bold" font-size="20" fill="#000"><text transform="translate(1221.5,797.6) rotate(-83.8)" y="6.6" text-anchor="start" textLength="84" lengthAdjust="spacing">DHCR24</text><text transform="translate(978.3,891.2) rotate(42.1)" y="6.6" text-anchor="end" textLength="59" lengthAdjust="spacing">DHX8</text><text transform="translate(1467.2,1160.9) rotate(15.8)" y="6.6" text-anchor="start" textLength="57" lengthAdjust="spacing">TERT</text></g>
<text x="1194.5" y="1404.8" font-family='"Liberation Sans", Arial, Helvetica, sans-serif' font-size="36.6" fill="#000" text-anchor="middle">KELLY</text>
</g>
<g id="plot-GIMEN">
<path d="M460.00,1691.20A154.60,154.60 0 0 1 532.72,1709.37M536.55,1711.48A154.60,154.60 0 0 1 589.74,1761.73M592.07,1765.43A154.60,154.60 0 0 1 612.68,1821.54M613.31,1825.87A154.60,154.60 0 0 1 609.93,1883.49M608.81,1887.72A154.60,154.60 0 0 1 584.92,1936.89M582.29,1940.39A154.60,154.60 0 0 1 544.24,1975.43M540.54,1977.77A154.60,154.60 0 0 1 496.04,1996.14M491.77,1997.10A154.60,154.60 0 0 1 447.55,1999.90M443.20,1999.48A154.60,154.60 0 0 1 401.74,1989.00M397.72,1987.30A154.60,154.60 0 0 1 362.67,1965.92M359.31,1963.12A154.60,154.60 0 0 1 332.08,1932.62M329.67,1928.97A154.60,154.60 0 0 1 312.54,1892.23M311.28,1888.03A154.60,154.60 0 0 1 305.60,1853.59M305.44,1849.22A154.60,154.60 0 0 1 308.15,1816.78M309.03,1812.50A154.60,154.60 0 0 1 318.75,1782.96M320.58,1778.99A154.60,154.60 0 0 1 334.57,1755.42M337.18,1751.91A154.60,154.60 0 0 1 353.65,1733.59M356.87,1730.63A154.60,154.60 0 0 1 375.68,1716.22M379.38,1713.88A154.60,154.60 0 0 1 395.21,1705.43M399.21,1703.65A154.60,154.60 0 0 1 417.23,1697.23M421.46,1696.08A154.60,154.60 0 0 1 435.77,1693.11M440.10,1692.49A154.60,154.60 0 0 1 455.62,1691.26" fill="none" stroke="#f3efef" stroke-width="1.1"/>
<path d="M460.00,1679.50A166.30,166.30 0 0 1 538.22,1699.05M542.35,1701.32A166.30,166.30 0 0 1 599.56,1755.37M602.07,1759.35A166.30,166.30 0 0 1 624.24,1819.70M624.91,1824.36A166.30,166.30 0 0 1 621.28,1886.35M620.07,1890.89A166.30,166.30 0 0 1 594.37,1943.78M591.54,1947.54A166.30,166.30 0 0 1 550.61,1985.25M546.63,1987.75A166.30,166.30 0 0 1 498.77,2007.52M494.17,2008.55A166.30,166.30 0 0 1 446.61,2011.56M441.93,2011.11A166.30,166.30 0 0 1 397.34,1999.84M393.00,1998.01A166.30,166.30 0 0 1 355.31,1975.01M351.69,1972.00A166.30,166.30 0 0 1 322.40,1939.19M319.81,1935.26A166.30,166.30 0 0 1 301.38,1895.74M300.03,1891.23A166.30,166.30 0 0 1 293.91,1854.18M293.74,1849.48A166.30,166.30 0 0 1 296.66,1814.59M297.60,1809.98A166.30,166.30 0 0 1 308.06,1778.21M310.03,1773.94A166.30,166.30 0 0 1 325.08,1748.58M327.88,1744.80A166.30,166.30 0 0 1 345.60,1725.10M349.06,1721.91A166.30,166.30 0 0 1 369.30,1706.41M373.28,1703.90A166.30,166.30 0 0 1 390.31,1694.81M394.61,1692.89A166.30,166.30 0 0 1 414.00,1685.99M418.54,1684.75A166.30,166.30 0 0 1 433.93,1681.56M438.59,1680.88A166.30,166.30 0 0 1 455.29,1679.57" fill="none" stroke="#f3efef" stroke-width="1.1"/>
<path d="M460.00,1632.30A213.50,213.50 0 0 1 560.43,1657.39M565.72,1660.31A213.50,213.50 0 0 1 639.17,1729.70M642.39,1734.82A213.50,213.50 0 0 1 670.85,1812.30M671.72,1818.28A213.50,213.50 0 0 1 667.06,1897.85M665.50,1903.69A213.50,213.50 0 0 1 632.51,1971.59M628.88,1976.42A213.50,213.50 0 0 1 576.33,2024.82M571.22,2028.04A213.50,213.50 0 0 1 509.77,2053.42M503.87,2054.74A213.50,213.50 0 0 1 442.81,2058.61M436.80,2058.04A213.50,213.50 0 0 1 379.55,2043.56M373.99,2041.21A213.50,213.50 0 0 1 325.60,2011.68M320.96,2007.81A213.50,213.50 0 0 1 283.35,1965.70M280.02,1960.65A213.50,213.50 0 0 1 256.35,1909.91M254.62,1904.12A213.50,213.50 0 0 1 246.77,1856.56M246.55,1850.52A213.50,213.50 0 0 1 250.29,1805.73M251.51,1799.81A213.50,213.50 0 0 1 264.93,1759.03M267.46,1753.54A213.50,213.50 0 0 1 286.78,1720.99M290.38,1716.14A213.50,213.50 0 0 1 313.13,1690.84M317.58,1686.75A213.50,213.50 0 0 1 343.55,1666.85M348.67,1663.63A213.50,213.50 0 0 1 370.53,1651.95M376.05,1649.50A213.50,213.50 0 0 1 400.94,1640.63M406.77,1639.04A213.50,213.50 0 0 1 426.53,1634.94M432.51,1634.08A213.50,213.50 0 0 1 453.96,1632.39" fill="none" stroke="#f3efef" stroke-width="1.1"/>
<path d="M460.00,1620.60A225.20,225.20 0 0 1 565.93,1647.07M571.51,1650.15A225.20,225.20 0 0 1 648.99,1723.34M652.38,1728.74A225.20,225.20 0 0 1 682.41,1810.46M683.32,1816.77A225.20,225.20 0 0 1 678.40,1900.71M676.76,1906.86A225.20,225.20 0 0 1 641.96,1978.48M638.13,1983.58A225.20,225.20 0 0 1 582.71,2034.63M577.31,2038.03A225.20,225.20 0 0 1 512.50,2064.80M506.28,2066.19A225.20,225.20 0 0 1 441.87,2070.27M435.52,2069.67A225.20,225.20 0 0 1 375.14,2054.40M369.27,2051.92A225.20,225.20 0 0 1 318.23,2020.78M313.34,2016.69A225.20,225.20 0 0 1 273.66,1972.27M270.16,1966.94A225.20,225.20 0 0 1 245.19,1913.43M243.37,1907.32A225.20,225.20 0 0 1 235.09,1857.15M234.86,1850.78A225.20,225.20 0 0 1 238.80,1803.53M240.09,1797.29A225.20,225.20 0 0 1 254.24,1754.27M256.91,1748.48A225.20,225.20 0 0 1 277.29,1714.15M281.09,1709.03A225.20,225.20 0 0 1 305.09,1682.35M309.77,1678.03A225.20,225.20 0 0 1 337.17,1657.04M342.56,1653.64A225.20,225.20 0 0 1 365.63,1641.33M371.45,1638.74A225.20,225.20 0 0 1 397.71,1629.39M403.85,1627.71A225.20,225.20 0 0 1 424.70,1623.38M431.01,1622.47A225.20,225.20 0 0 1 453.63,1620.69" fill="none" stroke="#f3efef" stroke-width="1.1"/>
<path d="M460.00,1644.10A201.70,201.70 0 0 1 554.87,1667.81M559.87,1670.56A201.70,201.70 0 0 1 629.27,1736.12M632.31,1740.95A201.70,201.70 0 0 1 659.20,1814.15M660.02,1819.80A201.70,201.70 0 0 1 655.61,1894.98M654.14,1900.49A201.70,201.70 0 0 1 622.97,1964.64M619.54,1969.20A201.70,201.70 0 0 1 569.90,2014.93M565.07,2017.97A201.70,201.70 0 0 1 507.02,2041.94M501.45,2043.20A201.70,201.70 0 0 1 443.76,2046.85M438.08,2046.31A201.70,201.70 0 0 1 384.00,2032.63M378.74,2030.41A201.70,201.70 0 0 1 333.02,2002.52M328.64,1998.86A201.70,201.70 0 0 1 293.11,1959.07M289.97,1954.30A201.70,201.70 0 0 1 267.61,1906.37M265.97,1900.90A201.70,201.70 0 0 1 258.56,1855.97M258.35,1850.26A201.70,201.70 0 0 1 261.88,1807.95M263.03,1802.35A201.70,201.70 0 0 1 275.71,1763.82M278.10,1758.64A201.70,201.70 0 0 1 296.36,1727.89M299.76,1723.30A201.70,201.70 0 0 1 321.25,1699.40M325.45,1695.54A201.70,201.70 0 0 1 349.99,1676.74M354.82,1673.70A201.70,201.70 0 0 1 375.48,1662.66M380.69,1660.35A201.70,201.70 0 0 1 404.21,1651.97M409.71,1650.47A201.70,201.70 0 0 1 428.38,1646.59M434.03,1645.78A201.70,201.70 0 0 1 454.29,1644.18" fill="none" stroke="#e8775c" stroke-width="1.25"/>
<path d="M460.00,1668.00A177.80,177.80 0 0 1 543.63,1688.90M548.04,1691.33A177.80,177.80 0 0 1 609.21,1749.11M611.89,1753.37A177.80,177.80 0 0 1 635.60,1817.90M636.32,1822.88A177.80,177.80 0 0 1 632.43,1889.15M631.14,1894.01A177.80,177.80 0 0 1 603.66,1950.56M600.64,1954.58A177.80,177.80 0 0 1 556.88,1994.89M552.62,1997.57A177.80,177.80 0 0 1 501.45,2018.70M496.54,2019.81A177.80,177.80 0 0 1 445.69,2023.02M440.68,2022.55A177.80,177.80 0 0 1 393.00,2010.49M388.37,2008.53A177.80,177.80 0 0 1 348.07,1983.95M344.21,1980.72A177.80,177.80 0 0 1 312.88,1945.65M310.12,1941.45A177.80,177.80 0 0 1 290.41,1899.19M288.96,1894.37A177.80,177.80 0 0 1 282.43,1854.76M282.24,1849.73A177.80,177.80 0 0 1 285.36,1812.43M286.37,1807.50A177.80,177.80 0 0 1 297.55,1773.54M299.66,1768.97A177.80,177.80 0 0 1 315.75,1741.86M318.75,1737.82A177.80,177.80 0 0 1 337.69,1716.75M341.39,1713.34A177.80,177.80 0 0 1 363.03,1696.77M367.28,1694.09A177.80,177.80 0 0 1 385.49,1684.36M390.09,1682.32A177.80,177.80 0 0 1 410.82,1674.94M415.67,1673.61A177.80,177.80 0 0 1 432.13,1670.20M437.11,1669.48A177.80,177.80 0 0 1 454.97,1668.07" fill="none" stroke="#6fa8cf" stroke-width="1.25"/>
<path d="M460.00,1594.40A251.40,251.40 0 0 1 578.25,1623.95L571.67,1636.30A237.40,237.40 0 0 0 460.00,1608.40Z" fill="#996600" stroke="rgba(60,60,60,0.35)" stroke-width="0.6"/>
<path d="M584.48,1627.38A251.40,251.40 0 0 1 670.98,1709.09L659.23,1716.70A237.40,237.40 0 0 0 577.55,1639.55Z" fill="#666600" stroke="rgba(60,60,60,0.35)" stroke-width="0.6"/>
<path d="M674.76,1715.12A251.40,251.40 0 0 1 708.29,1806.35L694.46,1808.54A237.40,237.40 0 0 0 662.80,1722.39Z" fill="#99991e" stroke="rgba(60,60,60,0.35)" stroke-width="0.6"/>
<path d="M709.30,1813.39A251.40,251.40 0 0 1 703.81,1907.09L690.24,1903.68A237.40,237.40 0 0 0 695.42,1815.19Z" fill="#cc0000" stroke="rgba(60,60,60,0.35)" stroke-width="0.6"/>
<path d="M701.98,1913.97A251.40,251.40 0 0 1 663.13,1993.92L651.82,1985.67A237.40,237.40 0 0 0 688.51,1910.17Z" fill="#ff0000" stroke="rgba(60,60,60,0.35)" stroke-width="0.6"/>
<path d="M658.86,1999.61A251.40,251.40 0 0 1 596.98,2056.60L589.35,2044.86A237.40,237.40 0 0 0 647.78,1991.04Z" fill="#ff00cc" stroke="rgba(60,60,60,0.35)" stroke-width="0.6"/>
<path d="M590.96,2060.39A251.40,251.40 0 0 1 518.60,2090.27L515.34,2076.66A237.40,237.40 0 0 0 583.67,2048.44Z" fill="#ffcccc" stroke="rgba(60,60,60,0.35)" stroke-width="0.6"/>
<path d="M511.66,2091.83A251.40,251.40 0 0 1 439.76,2096.38L440.89,2082.43A237.40,237.40 0 0 0 508.78,2078.13Z" fill="#ff9900" stroke="rgba(60,60,60,0.35)" stroke-width="0.6"/>
<path d="M432.68,2095.71A251.40,251.40 0 0 1 365.27,2078.67L370.54,2065.70A237.40,237.40 0 0 0 434.20,2081.79Z" fill="#ffcc00" stroke="rgba(60,60,60,0.35)" stroke-width="0.6"/>
<path d="M358.72,2075.90A251.40,251.40 0 0 1 301.74,2041.13L310.55,2030.25A237.40,237.40 0 0 0 364.36,2063.08Z" fill="#ffff00" stroke="rgba(60,60,60,0.35)" stroke-width="0.6"/>
<path d="M296.27,2036.58A251.40,251.40 0 0 1 251.99,1986.98L263.57,1979.12A237.40,237.40 0 0 0 305.39,2025.95Z" fill="#ccff00" stroke="rgba(60,60,60,0.35)" stroke-width="0.6"/>
<path d="M248.07,1981.04A251.40,251.40 0 0 1 220.20,1921.29L233.56,1917.09A237.40,237.40 0 0 0 259.88,1973.51Z" fill="#00ff00" stroke="rgba(60,60,60,0.35)" stroke-width="0.6"/>
<path d="M218.16,1914.48A251.40,251.40 0 0 1 208.92,1858.47L222.90,1857.76A237.40,237.40 0 0 0 231.63,1910.65Z" fill="#358000" stroke="rgba(60,60,60,0.35)" stroke-width="0.6"/>
<path d="M208.66,1851.36A251.40,251.40 0 0 1 213.07,1798.62L226.82,1801.24A237.40,237.40 0 0 0 222.66,1851.05Z" fill="#0000cc" stroke="rgba(60,60,60,0.35)" stroke-width="0.6"/>
<path d="M214.50,1791.65A251.40,251.40 0 0 1 230.30,1743.62L243.09,1749.31A237.40,237.40 0 0 0 228.17,1794.66Z" fill="#6699ff" stroke="rgba(60,60,60,0.35)" stroke-width="0.6"/>
<path d="M233.28,1737.16A251.40,251.40 0 0 1 256.03,1698.83L267.39,1707.02A237.40,237.40 0 0 0 245.91,1743.21Z" fill="#99ccff" stroke="rgba(60,60,60,0.35)" stroke-width="0.6"/>
<path d="M260.27,1693.12A251.40,251.40 0 0 1 287.06,1663.33L296.69,1673.49A237.40,237.40 0 0 0 271.40,1701.62Z" fill="#00ffff" stroke="rgba(60,60,60,0.35)" stroke-width="0.6"/>
<path d="M292.30,1658.51A251.40,251.40 0 0 1 322.88,1635.08L330.52,1646.82A237.40,237.40 0 0 0 301.63,1668.94Z" fill="#ccffff" stroke="rgba(60,60,60,0.35)" stroke-width="0.6"/>
<path d="M328.90,1631.29A251.40,251.40 0 0 1 354.65,1617.54L360.52,1630.25A237.40,237.40 0 0 0 336.20,1643.23Z" fill="#9900cc" stroke="rgba(60,60,60,0.35)" stroke-width="0.6"/>
<path d="M361.15,1614.65A251.40,251.40 0 0 1 390.46,1604.21L394.33,1617.66A237.40,237.40 0 0 0 366.66,1627.52Z" fill="#cc33ff" stroke="rgba(60,60,60,0.35)" stroke-width="0.6"/>
<path d="M397.32,1602.34A251.40,251.40 0 0 1 420.59,1597.51L422.79,1611.33A237.40,237.40 0 0 0 400.81,1615.90Z" fill="#cc99ff" stroke="rgba(60,60,60,0.35)" stroke-width="0.6"/>
<path d="M427.63,1596.49A251.40,251.40 0 0 1 452.89,1594.50L453.28,1608.50A237.40,237.40 0 0 0 429.44,1610.38Z" fill="#666666" stroke="rgba(60,60,60,0.35)" stroke-width="0.6"/>
<g font-family='"Liberation Serif", "Times New Roman", serif' font-size="12" fill="#111" text-anchor="middle">
<text transform="translate(523.3,1592.4) rotate(14.0)" y="3.8">1</text>
<text transform="translate(639.4,1655.9) rotate(43.4)" y="3.8">2</text>
<text transform="translate(705.2,1755.7) rotate(69.8)" y="3.8">3</text>
<text transform="translate(720.8,1861.1) rotate(273.4)" y="3.8">4</text>
<text transform="translate(694.9,1960.0) rotate(295.9)" y="3.8">5</text>
<text transform="translate(637.0,2037.9) rotate(317.4)" y="3.8">6</text>
<text transform="translate(559.7,2087.2) rotate(337.6)" y="3.8">7</text>
<text transform="translate(476.5,2106.5) rotate(356.4)" y="3.8">8</text>
<text transform="translate(396.0,2099.0) rotate(374.2)" y="3.8">9</text>
<text transform="translate(324.0,2068.8) rotate(391.4)" y="3.8">10</text>
<text transform="translate(265.2,2019.8) rotate(408.2)" y="3.8">11</text>
<text transform="translate(223.3,1956.2) rotate(425.0)" y="3.8">12</text>
<text transform="translate(202.3,1888.3) rotate(440.6)" y="3.8">13</text>
<text transform="translate(199.7,1824.1) rotate(274.8)" y="3.8">14</text>
<text transform="translate(211.9,1764.2) rotate(288.2)" y="3.8">15</text>
<text transform="translate(235.4,1712.5) rotate(300.7)" y="3.8">16</text>
<text transform="translate(265.8,1671.1) rotate(312.0)" y="3.8">17</text>
<text transform="translate(301.2,1638.4) rotate(322.6)" y="3.8">18</text>
<text transform="translate(337.0,1615.4) rotate(331.9)" y="3.8">19</text>
<text transform="translate(372.4,1599.7) rotate(340.4)" y="3.8">20</text>
<text transform="translate(406.9,1590.1) rotate(348.3)" y="3.8">21</text>
<text transform="translate(439.5,1585.4) rotate(355.5)" y="3.8">22</text>
</g>
<path d="M390.7,1666.2A193.4,193.4 0 0 1 393.8,1663.3L395.0,1666.6A190.6,190.6 0 0 0 391.4,1668.0ZM393.8,1663.3A194.6,194.6 0 0 1 399.0,1660.5L400.4,1664.8A190.6,190.6 0 0 0 395.0,1666.6ZM399.0,1660.5A194.5,194.5 0 0 1 406.3,1659.5L407.2,1662.7A190.6,190.6 0 0 0 400.4,1664.8ZM472.8,1653.1A194.0,194.0 0 0 1 493.0,1653.7L492.3,1657.9A190.6,190.6 0 0 0 472.6,1655.6ZM493.0,1653.7A193.8,193.8 0 0 1 494.0,1656.3L493.7,1658.2A190.6,190.6 0 0 0 492.3,1657.9ZM494.0,1656.3A193.5,193.5 0 0 1 503.0,1656.3L502.2,1659.9A190.6,190.6 0 0 0 493.7,1658.2ZM515.7,1659.5A194.8,194.8 0 0 1 526.4,1662.2L524.8,1666.6A190.6,190.6 0 0 0 514.6,1663.2ZM526.4,1662.2A194.6,194.6 0 0 1 545.0,1671.4L543.5,1674.5A190.6,190.6 0 0 0 524.8,1666.6ZM545.0,1671.7A193.7,193.7 0 0 1 550.8,1674.7L549.3,1677.4A190.6,190.6 0 0 0 543.6,1674.5ZM564.5,1681.7A194.5,194.5 0 0 1 565.4,1682.3L563.3,1685.6A190.6,190.6 0 0 0 562.4,1685.0ZM565.4,1682.3A194.8,194.8 0 0 1 575.0,1688.1L572.3,1691.8A190.6,190.6 0 0 0 563.3,1685.6ZM654.7,1863.4A195.7,195.7 0 0 1 653.6,1875.9L648.3,1875.0A190.6,190.6 0 0 0 649.8,1863.0ZM653.6,1875.9A195.7,195.7 0 0 1 651.4,1885.9L646.5,1884.9A190.6,190.6 0 0 0 648.3,1875.0ZM639.0,1917.6A193.7,193.7 0 0 1 634.8,1931.0L631.3,1929.3A190.6,190.6 0 0 0 636.9,1916.8ZM634.8,1931.0A194.2,194.2 0 0 1 630.1,1938.9L627.2,1937.3A190.6,190.6 0 0 0 631.3,1929.3ZM630.1,1938.9A193.6,193.6 0 0 1 623.9,1948.3L621.6,1946.8A190.6,190.6 0 0 0 627.2,1937.3ZM612.4,1966.0A193.9,193.9 0 0 1 603.0,1976.4L600.7,1974.4A190.6,190.6 0 0 0 609.6,1963.8ZM603.0,1976.4A194.4,194.4 0 0 1 596.7,1985.0L593.5,1981.8A190.6,190.6 0 0 0 600.7,1974.4ZM596.7,1985.0A194.8,194.8 0 0 1 595.4,1985.3L592.8,1982.6A190.6,190.6 0 0 0 593.5,1981.8ZM295.6,1950.7A194.4,194.4 0 0 1 290.1,1938.9L292.8,1937.4A190.6,190.6 0 0 0 299.3,1948.3ZM266.6,1842.5A193.8,193.8 0 0 1 266.1,1834.1L269.7,1834.3A190.6,190.6 0 0 0 269.4,1842.6ZM266.1,1834.1A193.9,193.9 0 0 1 267.7,1823.7L270.7,1824.0A190.6,190.6 0 0 0 269.7,1834.3ZM267.7,1823.7A193.8,193.8 0 0 1 269.2,1810.3L272.6,1810.9A190.6,190.6 0 0 0 270.7,1824.0ZM366.3,1678.4A193.5,193.5 0 0 1 367.9,1673.8L370.0,1677.8A190.6,190.6 0 0 0 366.9,1679.5ZM367.9,1673.8A195.4,195.4 0 0 1 372.6,1670.9L374.8,1675.3A190.6,190.6 0 0 0 370.0,1677.8Z" fill="#fde3da" stroke="#fde3da" stroke-width="0.6"/>
<path d="M418.3,1663.3A186.7,186.7 0 0 1 429.3,1662.2L428.6,1657.8A190.6,190.6 0 0 0 417.6,1660.0ZM646.8,1832.2A187.3,187.3 0 0 1 647.3,1844.5L650.6,1844.5A190.6,190.6 0 0 0 650.1,1831.9ZM647.3,1844.5A187.2,187.2 0 0 1 646.8,1855.0L650.4,1855.2A190.6,190.6 0 0 0 650.6,1844.5ZM646.8,1855.0A187.4,187.4 0 0 1 647.1,1862.7L649.8,1863.0A190.6,190.6 0 0 0 650.4,1855.2ZM642.8,1884.1A187.2,187.2 0 0 1 643.2,1886.2L646.1,1886.8A190.6,190.6 0 0 0 646.5,1884.9ZM589.4,1981.9A187.2,187.2 0 0 1 582.1,1986.9L584.7,1989.9A190.6,190.6 0 0 0 591.3,1983.9ZM582.1,1986.9A186.9,186.9 0 0 1 576.9,1992.1L579.0,1994.7A190.6,190.6 0 0 0 584.7,1989.9ZM440.6,2032.5A187.5,187.5 0 0 1 437.7,2031.8L437.3,2035.0A190.6,190.6 0 0 0 440.3,2035.4ZM437.7,2031.8A187.0,187.0 0 0 1 425.1,2029.2L424.4,2033.0A190.6,190.6 0 0 0 437.3,2035.0ZM425.1,2029.2A186.5,186.5 0 0 1 416.8,2027.1L415.8,2031.2A190.6,190.6 0 0 0 424.4,2033.0ZM416.8,2027.1A186.2,186.2 0 0 1 406.3,2023.9L405.0,2028.3A190.6,190.6 0 0 0 415.8,2031.2ZM406.3,2023.9A186.2,186.2 0 0 1 395.9,2020.8L394.4,2024.8A190.6,190.6 0 0 0 405.0,2028.3ZM395.9,2020.8A186.8,186.8 0 0 1 390.4,2019.6L389.1,2022.7A190.6,190.6 0 0 0 394.4,2024.8ZM361.1,2005.7A187.4,187.4 0 0 1 350.6,1997.3L348.5,2000.4A190.6,190.6 0 0 0 359.7,2007.9ZM350.6,1997.3A187.0,187.0 0 0 1 342.9,1991.8L340.8,1994.5A190.6,190.6 0 0 0 348.5,2000.4ZM336.5,1987.4A187.3,187.3 0 0 1 327.4,1977.3L324.7,1980.0A190.6,190.6 0 0 0 334.8,1989.5ZM276.9,1891.3A187.5,187.5 0 0 1 277.1,1881.1L272.8,1881.9A190.6,190.6 0 0 0 275.0,1891.8ZM277.1,1881.1A185.5,185.5 0 0 1 277.1,1870.6L271.1,1871.4A190.6,190.6 0 0 0 272.8,1881.9ZM277.1,1870.6A184.6,184.6 0 0 1 276.0,1861.2L270.1,1861.7A190.6,190.6 0 0 0 271.1,1871.4ZM276.0,1861.2A186.0,186.0 0 0 1 273.1,1859.2L269.9,1859.4A190.6,190.6 0 0 0 270.1,1861.7ZM273.1,1859.2A187.4,187.4 0 0 1 272.9,1855.4L269.7,1855.6A190.6,190.6 0 0 0 269.9,1859.4ZM279.6,1797.7A186.9,186.9 0 0 1 282.3,1787.1L279.0,1786.0A190.6,190.6 0 0 0 275.8,1796.7ZM282.3,1787.1A187.5,187.5 0 0 1 285.4,1776.7L282.8,1775.6A190.6,190.6 0 0 0 279.0,1786.0ZM341.7,1702.7A185.6,185.6 0 0 1 350.6,1695.9L347.7,1691.8A190.6,190.6 0 0 0 338.5,1698.9ZM350.6,1695.9A185.4,185.4 0 0 1 356.9,1692.0L353.9,1687.5A190.6,190.6 0 0 0 347.7,1691.8ZM356.9,1692.0A186.6,186.6 0 0 1 358.2,1687.8L356.8,1685.6A190.6,190.6 0 0 0 353.9,1687.5Z" fill="#e3ecf7" stroke="#e3ecf7" stroke-width="0.6"/>
<path d="M460.6,1665.7A180.3,180.3 0 0 1 472.0,1665.7L472.6,1655.6A190.6,190.6 0 0 0 460.6,1655.2ZM633.8,1895.7A180.8,180.8 0 0 1 630.7,1905.3L640.0,1908.6A190.6,190.6 0 0 0 643.2,1898.4ZM572.7,1986.9A179.9,179.9 0 0 1 559.2,1995.0L565.6,2004.5A190.6,190.6 0 0 0 579.0,1994.7ZM324.6,1966.1A180.8,180.8 0 0 1 311.2,1947.9L302.8,1953.6A190.6,190.6 0 0 0 317.5,1972.4ZM340.2,1710.0A180.9,180.9 0 0 1 344.8,1706.5L338.5,1698.9A190.6,190.6 0 0 0 333.9,1702.9Z" fill="#c3d6ee" stroke="#c3d6ee" stroke-width="0.6"/>
<path d="M504.4,1650.5A200.2,200.2 0 0 1 517.3,1654.1L514.6,1663.2A190.6,190.6 0 0 0 502.2,1659.9ZM657.2,1820.2A198.9,198.9 0 0 1 658.3,1831.3L650.1,1831.9A190.6,190.6 0 0 0 649.0,1821.3ZM656.2,1889.0A201.2,201.2 0 0 1 655.6,1894.4L645.0,1891.8A190.6,190.6 0 0 0 646.1,1886.8ZM318.5,1986.1A198.7,198.7 0 0 1 311.9,1977.4L317.5,1972.4A190.6,190.6 0 0 0 324.7,1980.0ZM314.1,1719.9A196.5,196.5 0 0 1 312.2,1710.5L319.4,1717.1A190.6,190.6 0 0 0 315.7,1721.3ZM312.2,1710.5A200.6,200.6 0 0 1 321.9,1700.0L328.9,1707.4A190.6,190.6 0 0 0 319.4,1717.1Z" fill="#f9bfa9" stroke="#f9bfa9" stroke-width="0.6"/>
<path d="M385.4,1671.2L384.4,1668.7A192.5,192.5 0 0 1 390.7,1666.2A193.4,193.4 0 0 1 393.8,1663.3A194.6,194.6 0 0 1 399.0,1660.5A194.5,194.5 0 0 1 406.3,1659.5L407.4,1663.3M418.3,1663.3A186.7,186.7 0 0 1 429.3,1662.2L430.9,1658.7M442.0,1657.3L441.7,1653.9A192.5,192.5 0 0 1 454.8,1653.7L454.9,1657.0M460.6,1656.3L460.6,1665.7A180.3,180.3 0 0 1 472.0,1665.7L472.8,1653.1A194.0,194.0 0 0 1 493.0,1653.7L494.0,1656.3A193.5,193.5 0 0 1 503.0,1656.3L504.4,1650.5A200.2,200.2 0 0 1 517.3,1654.1L515.7,1659.5A194.8,194.8 0 0 1 526.4,1662.2A194.9,194.9 0 0 1 535.8,1666.6A194.3,194.3 0 0 1 545.0,1671.4M545.0,1671.7A193.7,193.7 0 0 1 550.8,1674.7L551.3,1678.2L548.9,1678.2M553.9,1681.8L554.1,1684.4A187.7,187.7 0 0 1 557.7,1684.5L559.1,1682.2M561.1,1687.1L564.5,1681.7L565.4,1682.3A194.8,194.8 0 0 1 575.0,1688.1L570.9,1693.8A188.3,188.3 0 0 1 582.1,1702.2A189.1,189.1 0 0 1 592.5,1710.0A190.8,190.8 0 0 1 603.0,1717.8A192.2,192.2 0 0 1 613.4,1729.3A192.2,192.2 0 0 1 619.7,1739.8L620.9,1742.1M622.3,1746.0A192.0,192.0 0 0 1 626.5,1747.1A193.1,193.1 0 0 1 630.1,1755.4A192.2,192.2 0 0 1 634.3,1765.9A191.8,191.8 0 0 1 639.5,1778.4A191.9,191.9 0 0 1 643.7,1789.9A192.1,192.1 0 0 1 645.8,1797.0M645.8,1797.0A192.2,192.2 0 0 1 647.9,1804.9A192.1,192.1 0 0 1 649.5,1815.6L652.5,1815.2M648.4,1821.3L657.2,1820.2A198.9,198.9 0 0 1 658.3,1831.3L646.8,1832.2A187.3,187.3 0 0 1 647.3,1844.5A187.2,187.2 0 0 1 646.8,1855.0A187.4,187.4 0 0 1 647.1,1862.7L654.7,1863.4A195.7,195.7 0 0 1 653.6,1875.9A195.7,195.7 0 0 1 651.4,1885.9L642.8,1884.1L643.2,1886.2L656.2,1889.0A201.2,201.2 0 0 1 655.6,1894.4L644.8,1891.8M633.8,1895.7A180.8,180.8 0 0 1 630.7,1905.3L641.5,1909.1A192.5,192.5 0 0 1 639.0,1917.6A193.7,193.7 0 0 1 634.8,1931.0M634.8,1931.0A194.2,194.2 0 0 1 630.1,1938.9A193.6,193.6 0 0 1 623.9,1948.3A192.7,192.7 0 0 1 617.6,1955.6A191.5,191.5 0 0 1 614.5,1958.2M612.4,1966.0A193.9,193.9 0 0 1 603.0,1976.4A194.4,194.4 0 0 1 596.7,1985.0L595.4,1985.3L591.8,1981.6L589.4,1981.9A187.2,187.2 0 0 1 582.1,1986.9A186.9,186.9 0 0 1 576.9,1992.1L572.7,1986.9A179.9,179.9 0 0 1 559.2,1995.0L565.4,2004.3M559.5,2008.7L558.2,2006.6A188.0,188.0 0 0 1 550.8,2009.9A187.7,187.7 0 0 1 539.3,2016.1A187.9,187.9 0 0 1 534.1,2018.4A188.3,188.3 0 0 1 527.8,2021.9A188.5,188.5 0 0 1 519.4,2024.5A188.6,188.6 0 0 1 509.0,2028.1M509.0,2028.1A188.6,188.6 0 0 1 504.2,2029.0L504.8,2031.4M499.2,2034.4L498.8,2032.5A191.3,191.3 0 0 1 489.9,2035.4A192.3,192.3 0 0 1 479.4,2037.5A192.7,192.7 0 0 1 469.0,2038.3A192.5,192.5 0 0 1 458.5,2038.0A191.9,191.9 0 0 1 448.1,2037.0A191.2,191.2 0 0 1 444.7,2035.9L444.8,2034.9M440.6,2032.5A187.5,187.5 0 0 1 437.7,2031.8A187.0,187.0 0 0 1 425.1,2029.2A186.5,186.5 0 0 1 416.8,2027.1A186.2,186.2 0 0 1 406.3,2023.9A186.2,186.2 0 0 1 395.9,2020.8A186.8,186.8 0 0 1 390.4,2019.6L389.4,2022.0M382.0,2023.6A193.1,193.1 0 0 1 379.9,2020.3L383.0,2018.2A188.5,188.5 0 0 1 377.8,2015.1A189.4,189.4 0 0 1 369.4,2013.5L368.4,2010.4A188.2,188.2 0 0 1 361.1,2005.7A187.4,187.4 0 0 1 350.6,1997.3A187.0,187.0 0 0 1 342.9,1991.8L341.1,1994.0M336.5,1990.0L336.5,1987.4A187.3,187.3 0 0 1 327.4,1977.3L318.5,1986.1A198.7,198.7 0 0 1 311.9,1977.4L324.6,1966.1A180.9,180.9 0 0 1 317.6,1957.2A180.6,180.6 0 0 1 311.2,1947.9L303.9,1952.8M299.7,1948.1L295.6,1950.7A194.4,194.4 0 0 1 290.1,1938.9A193.2,193.2 0 0 1 282.8,1921.1A192.1,192.1 0 0 1 277.4,1903.9L289.2,1900.2M279.6,1890.7L276.9,1891.3A187.5,187.5 0 0 1 277.1,1881.1A185.5,185.5 0 0 1 277.1,1870.6A184.6,184.6 0 0 1 276.0,1861.2L273.1,1859.2A187.4,187.4 0 0 1 272.9,1855.4L270.3,1855.6M270.3,1842.6L266.6,1842.5A193.8,193.8 0 0 1 266.1,1834.1A193.9,193.9 0 0 1 267.7,1823.7A193.8,193.8 0 0 1 269.2,1810.3M281.8,1798.3L279.6,1797.7A186.9,186.9 0 0 1 282.3,1787.1A187.5,187.5 0 0 1 285.4,1776.7A187.8,187.8 0 0 1 288.5,1769.5L286.5,1768.7M286.1,1762.4L288.6,1763.6A190.8,190.8 0 0 1 290.1,1757.5A191.9,191.9 0 0 1 293.2,1750.2A192.9,192.9 0 0 1 299.5,1737.7A192.7,192.7 0 0 1 303.9,1734.2L305.7,1735.5M308.9,1730.6A190.6,190.6 0 0 1 309.9,1727.2A190.5,190.5 0 0 1 312.8,1726.0A191.2,191.2 0 0 1 314.1,1719.9A196.5,196.5 0 0 1 312.2,1710.5A200.6,200.6 0 0 1 321.9,1700.0L329.7,1708.2M334.0,1703.0L340.2,1710.0A180.9,180.9 0 0 1 344.8,1706.5L341.7,1702.7A185.6,185.6 0 0 1 350.6,1695.9A185.4,185.4 0 0 1 356.9,1692.0A186.6,186.6 0 0 1 358.2,1687.8L355.9,1687.0M361.1,1683.4L362.1,1680.5A192.0,192.0 0 0 1 366.3,1678.4A193.5,193.5 0 0 1 367.9,1673.8A195.4,195.4 0 0 1 372.6,1670.9A193.0,193.0 0 0 1 379.9,1672.9" fill="none" stroke="#0a0a0a" stroke-width="1.6" stroke-linejoin="miter"/>
<path d="M383.9,1633.3L394.3,1664.1M390.7,1668.8L395.4,1680.3M415.7,1655.7L422.0,1676.6M468.5,1665.7L468.5,1676.1M525.4,1629.6L511.8,1671.9M561.7,1687.6L565.9,1674.5M585.2,1702.2L595.7,1688.6M594.6,1709.5L611.3,1693.3M629.1,1757.5L618.1,1762.7M646.3,1802.8L634.8,1805.4M648.4,1824.2L657.3,1823.7M650.5,1839.8L686.5,1838.3M632.2,1855.0L646.8,1855.5M655.7,1894.1L679.7,1900.4M634.3,1895.7L659.9,1902.5M632.2,1916.6L639.5,1918.7M624.9,1930.5L633.3,1932.1M632.7,1916.4L639.5,1918.5M603.5,1957.1L624.4,1972.8M606.1,1974.4L614.5,1983.2M592.5,1968.1L599.8,1977.5M552.9,1984.3L561.2,1993.7M600.9,1981.7L604.0,1986.9M533.0,2012.0L539.3,2033.9M528.8,2012.5L531.5,2021.4M509.0,2029.7L512.7,2037.0M509.7,2021.8L512.3,2036.5M529.0,2013.5L531.1,2021.8M496.1,2035.4L500.8,2063.6M483.6,2023.9L484.1,2035.4M435.0,2017.1L435.0,2037.5M437.7,2025.0L437.7,2032.3M425.1,2021.8L425.1,2029.7M367.9,2010.9L359.5,2027.6M295.3,1950.3L269.7,1967.6M279.6,1919.5L266.6,1925.8M261.9,1808.5L273.4,1810.3M252.5,1842.2L270.3,1842.7M241.5,1788.1L281.2,1798.4M265.5,1742.4L290.1,1755.4M266.1,1745.5L289.0,1757.5M277.5,1742.9L292.2,1751.8M303.7,1738.2L313.1,1744.5M291.1,1695.9L314.1,1718.9M295.3,1708.4L313.1,1722.5M301.6,1701.1L312.0,1711.6M349.6,1696.8L351.7,1701.3M367.9,1663.5L379.9,1672.9M371.0,1660.9L380.4,1670.3M374.1,1659.2L377.8,1665.1" fill="none" stroke="#0a0a0a" stroke-width="1.3"/>
<path d="M375.0,1663.1L379.7,1672.4M408.9,1625.5L415.7,1655.7M494.0,2021.8L496.1,2035.4M415.2,2021.8L411.0,2046.9M314.1,1718.9L324.5,1727.8M333.4,1701.3L340.2,1709.5" fill="none" stroke="#0a0a0a" stroke-width="2.6"/>
<path d="M438.3,1704.8Q451.9,1845.4 599.1,1884.8M357.9,1945.8Q464.4,1843.9 600.1,1876.5M408.6,1979.2Q488.0,1846.0 568.8,1939.1" fill="none" stroke="#9a8fca" stroke-width="2" stroke-linecap="round"/>
<path d="M452.5,1703.1L456.4,1770.0M452.9,1703.1L456.2,1767.9M590.7,1787.1L529.1,1814.9" fill="none" stroke="#77b877" stroke-width="2" stroke-linecap="round"/>
<path d="M446.8,1590.1L445.4,1563.2M693.3,1740.5L717.9,1729.3M654.2,2012.6L675.1,2030.5M277.4,2025.2L258.2,2044.2M710.4,1901.8L715.1,1902.8L734.9,1893.4L740.1,1893.9M706.7,1915.9L713.5,1917.4L732.8,1905.9L737,1907M713.5,1917.4L733.3,1923.2M713.5,1917.4L728.6,1935.7M713.5,1917.4L720.3,1946.7L725,1948.8" fill="none" stroke="#3a3a3a" stroke-width="0.8"/>
<g font-family='"Liberation Serif", "Times New Roman", serif' font-weight="bold" font-size="20" fill="#000"><text transform="translate(445.2,1559.2) rotate(87.0)" y="6.6" text-anchor="end" textLength="115" lengthAdjust="spacing">APOBEC3B</text><text transform="translate(721.6,1727.7) rotate(-24.3)" y="6.6" text-anchor="start" textLength="77" lengthAdjust="spacing">PTPRG</text><text transform="translate(678.1,2033.1) rotate(40.7)" y="6.6" text-anchor="start" textLength="78" lengthAdjust="spacing">ZNF322</text><text transform="translate(255.3,2047.0) rotate(-44.5)" y="6.6" text-anchor="end" textLength="103" lengthAdjust="spacing">HSD17B12</text><text transform="translate(744.4,1894.8) rotate(9.6)" y="6.6" textLength="62.5" lengthAdjust="spacing">SPCS3</text><text transform="translate(741.5,1908.5) rotate(12.5)" y="6.6" textLength="96" lengthAdjust="spacing">ZDHHC11</text><text transform="translate(737.4,1926.3) rotate(13.0)" y="6.6" textLength="55.5" lengthAdjust="spacing">BRD9</text><text transform="translate(733.6,1938.9) rotate(16.1)" y="6.6" textLength="73" lengthAdjust="spacing">TRIP13</text><text transform="translate(729.7,1952.1) rotate(19.1)" y="6.6" textLength="55" lengthAdjust="spacing">TERT</text></g>
<text x="469.5" y="2184.8" font-family='"Liberation Sans", Arial, Helvetica, sans-serif' font-size="36.6" fill="#000" text-anchor="middle">GIMEN</text>
</g>
<g id="plot-NB1643">
<path d="M1190.00,1691.20A154.60,154.60 0 0 1 1262.72,1709.37M1266.55,1711.48A154.60,154.60 0 0 1 1319.74,1761.73M1322.07,1765.43A154.60,154.60 0 0 1 1342.68,1821.54M1343.31,1825.87A154.60,154.60 0 0 1 1339.93,1883.49M1338.81,1887.72A154.60,154.60 0 0 1 1314.92,1936.89M1312.29,1940.39A154.60,154.60 0 0 1 1274.24,1975.43M1270.54,1977.77A154.60,154.60 0 0 1 1226.04,1996.14M1221.77,1997.10A154.60,154.60 0 0 1 1177.55,1999.90M1173.20,1999.48A154.60,154.60 0 0 1 1131.74,1989.00M1127.72,1987.30A154.60,154.60 0 0 1 1092.67,1965.92M1089.31,1963.12A154.60,154.60 0 0 1 1062.08,1932.62M1059.67,1928.97A154.60,154.60 0 0 1 1042.54,1892.23M1041.28,1888.03A154.60,154.60 0 0 1 1035.60,1853.59M1035.44,1849.22A154.60,154.60 0 0 1 1038.15,1816.78M1039.03,1812.50A154.60,154.60 0 0 1 1048.75,1782.96M1050.58,1778.99A154.60,154.60 0 0 1 1064.57,1755.42M1067.18,1751.91A154.60,154.60 0 0 1 1083.65,1733.59M1086.87,1730.63A154.60,154.60 0 0 1 1105.68,1716.22M1109.38,1713.88A154.60,154.60 0 0 1 1125.21,1705.43M1129.21,1703.65A154.60,154.60 0 0 1 1147.23,1697.23M1151.46,1696.08A154.60,154.60 0 0 1 1165.77,1693.11M1170.10,1692.49A154.60,154.60 0 0 1 1185.62,1691.26" fill="none" stroke="#f3efef" stroke-width="1.1"/>
<path d="M1190.00,1679.50A166.30,166.30 0 0 1 1268.22,1699.05M1272.35,1701.32A166.30,166.30 0 0 1 1329.56,1755.37M1332.07,1759.35A166.30,166.30 0 0 1 1354.24,1819.70M1354.91,1824.36A166.30,166.30 0 0 1 1351.28,1886.35M1350.07,1890.89A166.30,166.30 0 0 1 1324.37,1943.78M1321.54,1947.54A166.30,166.30 0 0 1 1280.61,1985.25M1276.63,1987.75A166.30,166.30 0 0 1 1228.77,2007.52M1224.17,2008.55A166.30,166.30 0 0 1 1176.61,2011.56M1171.93,2011.11A166.30,166.30 0 0 1 1127.34,1999.84M1123.00,1998.01A166.30,166.30 0 0 1 1085.31,1975.01M1081.69,1972.00A166.30,166.30 0 0 1 1052.40,1939.19M1049.81,1935.26A166.30,166.30 0 0 1 1031.38,1895.74M1030.03,1891.23A166.30,166.30 0 0 1 1023.91,1854.18M1023.74,1849.48A166.30,166.30 0 0 1 1026.66,1814.59M1027.60,1809.98A166.30,166.30 0 0 1 1038.06,1778.21M1040.03,1773.94A166.30,166.30 0 0 1 1055.08,1748.58M1057.88,1744.80A166.30,166.30 0 0 1 1075.60,1725.10M1079.06,1721.91A166.30,166.30 0 0 1 1099.30,1706.41M1103.28,1703.90A166.30,166.30 0 0 1 1120.31,1694.81M1124.61,1692.89A166.30,166.30 0 0 1 1144.00,1685.99M1148.54,1684.75A166.30,166.30 0 0 1 1163.93,1681.56M1168.59,1680.88A166.30,166.30 0 0 1 1185.29,1679.57" fill="none" stroke="#f3efef" stroke-width="1.1"/>
<path d="M1190.00,1632.30A213.50,213.50 0 0 1 1290.43,1657.39M1295.72,1660.31A213.50,213.50 0 0 1 1369.17,1729.70M1372.39,1734.82A213.50,213.50 0 0 1 1400.85,1812.30M1401.72,1818.28A213.50,213.50 0 0 1 1397.06,1897.85M1395.50,1903.69A213.50,213.50 0 0 1 1362.51,1971.59M1358.88,1976.42A213.50,213.50 0 0 1 1306.33,2024.82M1301.22,2028.04A213.50,213.50 0 0 1 1239.77,2053.42M1233.87,2054.74A213.50,213.50 0 0 1 1172.81,2058.61M1166.80,2058.04A213.50,213.50 0 0 1 1109.55,2043.56M1103.99,2041.21A213.50,213.50 0 0 1 1055.60,2011.68M1050.96,2007.81A213.50,213.50 0 0 1 1013.35,1965.70M1010.02,1960.65A213.50,213.50 0 0 1 986.35,1909.91M984.62,1904.12A213.50,213.50 0 0 1 976.77,1856.56M976.55,1850.52A213.50,213.50 0 0 1 980.29,1805.73M981.51,1799.81A213.50,213.50 0 0 1 994.93,1759.03M997.46,1753.54A213.50,213.50 0 0 1 1016.78,1720.99M1020.38,1716.14A213.50,213.50 0 0 1 1043.13,1690.84M1047.58,1686.75A213.50,213.50 0 0 1 1073.55,1666.85M1078.67,1663.63A213.50,213.50 0 0 1 1100.53,1651.95M1106.05,1649.50A213.50,213.50 0 0 1 1130.94,1640.63M1136.77,1639.04A213.50,213.50 0 0 1 1156.53,1634.94M1162.51,1634.08A213.50,213.50 0 0 1 1183.96,1632.39" fill="none" stroke="#f3efef" stroke-width="1.1"/>
<path d="M1190.00,1620.60A225.20,225.20 0 0 1 1295.93,1647.07M1301.51,1650.15A225.20,225.20 0 0 1 1378.99,1723.34M1382.38,1728.74A225.20,225.20 0 0 1 1412.41,1810.46M1413.32,1816.77A225.20,225.20 0 0 1 1408.40,1900.71M1406.76,1906.86A225.20,225.20 0 0 1 1371.96,1978.48M1368.13,1983.58A225.20,225.20 0 0 1 1312.71,2034.63M1307.31,2038.03A225.20,225.20 0 0 1 1242.50,2064.80M1236.28,2066.19A225.20,225.20 0 0 1 1171.87,2070.27M1165.52,2069.67A225.20,225.20 0 0 1 1105.14,2054.40M1099.27,2051.92A225.20,225.20 0 0 1 1048.23,2020.78M1043.34,2016.69A225.20,225.20 0 0 1 1003.66,1972.27M1000.16,1966.94A225.20,225.20 0 0 1 975.19,1913.43M973.37,1907.32A225.20,225.20 0 0 1 965.09,1857.15M964.86,1850.78A225.20,225.20 0 0 1 968.80,1803.53M970.09,1797.29A225.20,225.20 0 0 1 984.24,1754.27M986.91,1748.48A225.20,225.20 0 0 1 1007.29,1714.15M1011.09,1709.03A225.20,225.20 0 0 1 1035.09,1682.35M1039.77,1678.03A225.20,225.20 0 0 1 1067.17,1657.04M1072.56,1653.64A225.20,225.20 0 0 1 1095.63,1641.33M1101.45,1638.74A225.20,225.20 0 0 1 1127.71,1629.39M1133.85,1627.71A225.20,225.20 0 0 1 1154.70,1623.38M1161.01,1622.47A225.20,225.20 0 0 1 1183.63,1620.69" fill="none" stroke="#f3efef" stroke-width="1.1"/>
<path d="M1190.00,1644.10A201.70,201.70 0 0 1 1284.87,1667.81M1289.87,1670.56A201.70,201.70 0 0 1 1359.27,1736.12M1362.31,1740.95A201.70,201.70 0 0 1 1389.20,1814.15M1390.02,1819.80A201.70,201.70 0 0 1 1385.61,1894.98M1384.14,1900.49A201.70,201.70 0 0 1 1352.97,1964.64M1349.54,1969.20A201.70,201.70 0 0 1 1299.90,2014.93M1295.07,2017.97A201.70,201.70 0 0 1 1237.02,2041.94M1231.45,2043.20A201.70,201.70 0 0 1 1173.76,2046.85M1168.08,2046.31A201.70,201.70 0 0 1 1114.00,2032.63M1108.74,2030.41A201.70,201.70 0 0 1 1063.02,2002.52M1058.64,1998.86A201.70,201.70 0 0 1 1023.11,1959.07M1019.97,1954.30A201.70,201.70 0 0 1 997.61,1906.37M995.97,1900.90A201.70,201.70 0 0 1 988.56,1855.97M988.35,1850.26A201.70,201.70 0 0 1 991.88,1807.95M993.03,1802.35A201.70,201.70 0 0 1 1005.71,1763.82M1008.10,1758.64A201.70,201.70 0 0 1 1026.36,1727.89M1029.76,1723.30A201.70,201.70 0 0 1 1051.25,1699.40M1055.45,1695.54A201.70,201.70 0 0 1 1079.99,1676.74M1084.82,1673.70A201.70,201.70 0 0 1 1105.48,1662.66M1110.69,1660.35A201.70,201.70 0 0 1 1134.21,1651.97M1139.71,1650.47A201.70,201.70 0 0 1 1158.38,1646.59M1164.03,1645.78A201.70,201.70 0 0 1 1184.29,1644.18" fill="none" stroke="#e8775c" stroke-width="1.25"/>
<path d="M1190.00,1668.00A177.80,177.80 0 0 1 1273.63,1688.90M1278.04,1691.33A177.80,177.80 0 0 1 1339.21,1749.11M1341.89,1753.37A177.80,177.80 0 0 1 1365.60,1817.90M1366.32,1822.88A177.80,177.80 0 0 1 1362.43,1889.15M1361.14,1894.01A177.80,177.80 0 0 1 1333.66,1950.56M1330.64,1954.58A177.80,177.80 0 0 1 1286.88,1994.89M1282.62,1997.57A177.80,177.80 0 0 1 1231.45,2018.70M1226.54,2019.81A177.80,177.80 0 0 1 1175.69,2023.02M1170.68,2022.55A177.80,177.80 0 0 1 1123.00,2010.49M1118.37,2008.53A177.80,177.80 0 0 1 1078.07,1983.95M1074.21,1980.72A177.80,177.80 0 0 1 1042.88,1945.65M1040.12,1941.45A177.80,177.80 0 0 1 1020.41,1899.19M1018.96,1894.37A177.80,177.80 0 0 1 1012.43,1854.76M1012.24,1849.73A177.80,177.80 0 0 1 1015.36,1812.43M1016.37,1807.50A177.80,177.80 0 0 1 1027.55,1773.54M1029.66,1768.97A177.80,177.80 0 0 1 1045.75,1741.86M1048.75,1737.82A177.80,177.80 0 0 1 1067.69,1716.75M1071.39,1713.34A177.80,177.80 0 0 1 1093.03,1696.77M1097.28,1694.09A177.80,177.80 0 0 1 1115.49,1684.36M1120.09,1682.32A177.80,177.80 0 0 1 1140.82,1674.94M1145.67,1673.61A177.80,177.80 0 0 1 1162.13,1670.20M1167.11,1669.48A177.80,177.80 0 0 1 1184.97,1668.07" fill="none" stroke="#6fa8cf" stroke-width="1.25"/>
<path d="M1190.00,1594.40A251.40,251.40 0 0 1 1308.25,1623.95L1301.67,1636.30A237.40,237.40 0 0 0 1190.00,1608.40Z" fill="#996600" stroke="rgba(60,60,60,0.35)" stroke-width="0.6"/>
<path d="M1314.48,1627.38A251.40,251.40 0 0 1 1400.98,1709.09L1389.23,1716.70A237.40,237.40 0 0 0 1307.55,1639.55Z" fill="#666600" stroke="rgba(60,60,60,0.35)" stroke-width="0.6"/>
<path d="M1404.76,1715.12A251.40,251.40 0 0 1 1438.29,1806.35L1424.46,1808.54A237.40,237.40 0 0 0 1392.80,1722.39Z" fill="#99991e" stroke="rgba(60,60,60,0.35)" stroke-width="0.6"/>
<path d="M1439.30,1813.39A251.40,251.40 0 0 1 1433.81,1907.09L1420.24,1903.68A237.40,237.40 0 0 0 1425.42,1815.19Z" fill="#cc0000" stroke="rgba(60,60,60,0.35)" stroke-width="0.6"/>
<path d="M1431.98,1913.97A251.40,251.40 0 0 1 1393.13,1993.92L1381.82,1985.67A237.40,237.40 0 0 0 1418.51,1910.17Z" fill="#ff0000" stroke="rgba(60,60,60,0.35)" stroke-width="0.6"/>
<path d="M1388.86,1999.61A251.40,251.40 0 0 1 1326.98,2056.60L1319.35,2044.86A237.40,237.40 0 0 0 1377.78,1991.04Z" fill="#ff00cc" stroke="rgba(60,60,60,0.35)" stroke-width="0.6"/>
<path d="M1320.96,2060.39A251.40,251.40 0 0 1 1248.60,2090.27L1245.34,2076.66A237.40,237.40 0 0 0 1313.67,2048.44Z" fill="#ffcccc" stroke="rgba(60,60,60,0.35)" stroke-width="0.6"/>
<path d="M1241.66,2091.83A251.40,251.40 0 0 1 1169.76,2096.38L1170.89,2082.43A237.40,237.40 0 0 0 1238.78,2078.13Z" fill="#ff9900" stroke="rgba(60,60,60,0.35)" stroke-width="0.6"/>
<path d="M1162.68,2095.71A251.40,251.40 0 0 1 1095.27,2078.67L1100.54,2065.70A237.40,237.40 0 0 0 1164.20,2081.79Z" fill="#ffcc00" stroke="rgba(60,60,60,0.35)" stroke-width="0.6"/>
<path d="M1088.72,2075.90A251.40,251.40 0 0 1 1031.74,2041.13L1040.55,2030.25A237.40,237.40 0 0 0 1094.36,2063.08Z" fill="#ffff00" stroke="rgba(60,60,60,0.35)" stroke-width="0.6"/>
<path d="M1026.27,2036.58A251.40,251.40 0 0 1 981.99,1986.98L993.57,1979.12A237.40,237.40 0 0 0 1035.39,2025.95Z" fill="#ccff00" stroke="rgba(60,60,60,0.35)" stroke-width="0.6"/>
<path d="M978.07,1981.04A251.40,251.40 0 0 1 950.20,1921.29L963.56,1917.09A237.40,237.40 0 0 0 989.88,1973.51Z" fill="#00ff00" stroke="rgba(60,60,60,0.35)" stroke-width="0.6"/>
<path d="M948.16,1914.48A251.40,251.40 0 0 1 938.92,1858.47L952.90,1857.76A237.40,237.40 0 0 0 961.63,1910.65Z" fill="#358000" stroke="rgba(60,60,60,0.35)" stroke-width="0.6"/>
<path d="M938.66,1851.36A251.40,251.40 0 0 1 943.07,1798.62L956.82,1801.24A237.40,237.40 0 0 0 952.66,1851.05Z" fill="#0000cc" stroke="rgba(60,60,60,0.35)" stroke-width="0.6"/>
<path d="M944.50,1791.65A251.40,251.40 0 0 1 960.30,1743.62L973.09,1749.31A237.40,237.40 0 0 0 958.17,1794.66Z" fill="#6699ff" stroke="rgba(60,60,60,0.35)" stroke-width="0.6"/>
<path d="M963.28,1737.16A251.40,251.40 0 0 1 986.03,1698.83L997.39,1707.02A237.40,237.40 0 0 0 975.91,1743.21Z" fill="#99ccff" stroke="rgba(60,60,60,0.35)" stroke-width="0.6"/>
<path d="M990.27,1693.12A251.40,251.40 0 0 1 1017.06,1663.33L1026.69,1673.49A237.40,237.40 0 0 0 1001.40,1701.62Z" fill="#00ffff" stroke="rgba(60,60,60,0.35)" stroke-width="0.6"/>
<path d="M1022.30,1658.51A251.40,251.40 0 0 1 1052.88,1635.08L1060.52,1646.82A237.40,237.40 0 0 0 1031.63,1668.94Z" fill="#ccffff" stroke="rgba(60,60,60,0.35)" stroke-width="0.6"/>
<path d="M1058.90,1631.29A251.40,251.40 0 0 1 1084.65,1617.54L1090.52,1630.25A237.40,237.40 0 0 0 1066.20,1643.23Z" fill="#9900cc" stroke="rgba(60,60,60,0.35)" stroke-width="0.6"/>
<path d="M1091.15,1614.65A251.40,251.40 0 0 1 1120.46,1604.21L1124.33,1617.66A237.40,237.40 0 0 0 1096.66,1627.52Z" fill="#cc33ff" stroke="rgba(60,60,60,0.35)" stroke-width="0.6"/>
<path d="M1127.32,1602.34A251.40,251.40 0 0 1 1150.59,1597.51L1152.79,1611.33A237.40,237.40 0 0 0 1130.81,1615.90Z" fill="#cc99ff" stroke="rgba(60,60,60,0.35)" stroke-width="0.6"/>
<path d="M1157.63,1596.49A251.40,251.40 0 0 1 1182.89,1594.50L1183.28,1608.50A237.40,237.40 0 0 0 1159.44,1610.38Z" fill="#666666" stroke="rgba(60,60,60,0.35)" stroke-width="0.6"/>
<g font-family='"Liberation Serif", "Times New Roman", serif' font-size="12" fill="#111" text-anchor="middle">
<text transform="translate(1253.3,1592.4) rotate(14.0)" y="3.8">1</text>
<text transform="translate(1369.4,1655.9) rotate(43.4)" y="3.8">2</text>
<text transform="translate(1435.2,1755.7) rotate(69.8)" y="3.8">3</text>
<text transform="translate(1450.8,1861.1) rotate(273.4)" y="3.8">4</text>
<text transform="translate(1424.9,1960.0) rotate(295.9)" y="3.8">5</text>
<text transform="translate(1367.0,2037.9) rotate(317.4)" y="3.8">6</text>
<text transform="translate(1289.7,2087.2) rotate(337.6)" y="3.8">7</text>
<text transform="translate(1206.5,2106.5) rotate(356.4)" y="3.8">8</text>
<text transform="translate(1126.0,2099.0) rotate(374.2)" y="3.8">9</text>
<text transform="translate(1054.0,2068.8) rotate(391.4)" y="3.8">10</text>
<text transform="translate(995.2,2019.8) rotate(408.2)" y="3.8">11</text>
<text transform="translate(953.3,1956.2) rotate(425.0)" y="3.8">12</text>
<text transform="translate(932.3,1888.3) rotate(440.6)" y="3.8">13</text>
<text transform="translate(929.7,1824.1) rotate(274.8)" y="3.8">14</text>
<text transform="translate(941.9,1764.2) rotate(288.2)" y="3.8">15</text>
<text transform="translate(965.4,1712.5) rotate(300.7)" y="3.8">16</text>
<text transform="translate(995.8,1671.1) rotate(312.0)" y="3.8">17</text>
<text transform="translate(1031.2,1638.4) rotate(322.6)" y="3.8">18</text>
<text transform="translate(1067.0,1615.4) rotate(331.9)" y="3.8">19</text>
<text transform="translate(1102.4,1599.7) rotate(340.4)" y="3.8">20</text>
<text transform="translate(1136.9,1590.1) rotate(348.3)" y="3.8">21</text>
<text transform="translate(1169.5,1585.4) rotate(355.5)" y="3.8">22</text>
</g>
<path d="M1171.7,1649.1A197.6,197.6 0 0 1 1178.1,1648.4L1178.5,1655.5A190.6,190.6 0 0 0 1172.4,1656.0ZM1178.1,1648.4A197.8,197.8 0 0 1 1184.9,1648.0L1185.1,1655.3A190.6,190.6 0 0 0 1178.5,1655.5ZM1207.2,1647.4A200.5,200.5 0 0 1 1213.6,1645.3L1212.3,1656.5A190.6,190.6 0 0 0 1206.5,1655.9ZM1213.6,1645.3A202.2,202.2 0 0 1 1233.9,1648.0L1231.3,1659.7A190.6,190.6 0 0 0 1212.3,1656.5ZM1234.6,1644.7A206.0,206.0 0 0 1 1249.8,1648.6L1245.3,1663.4A190.6,190.6 0 0 0 1231.3,1659.7ZM1247.9,1655.0A200.3,200.3 0 0 1 1256.4,1656.0L1252.9,1665.9A190.6,190.6 0 0 0 1245.3,1663.4ZM1256.4,1656.0A201.4,201.4 0 0 1 1265.8,1658.9L1261.6,1669.2A190.6,190.6 0 0 0 1252.9,1665.9ZM1265.8,1658.9A201.5,201.5 0 0 1 1275.0,1663.3L1270.5,1673.0A190.6,190.6 0 0 0 1261.6,1669.2ZM1275.0,1663.5A201.5,201.5 0 0 1 1285.6,1667.8L1280.2,1677.9A190.6,190.6 0 0 0 1270.6,1673.1ZM1330.2,1984.1A197.3,197.3 0 0 0 1331.4,1983.8L1326.4,1978.9A190.6,190.6 0 0 1 1325.7,1979.7ZM1294.5,2016.6A199.7,199.7 0 0 1 1286.0,2020.3L1281.9,2012.8A190.6,190.6 0 0 0 1289.5,2008.4ZM1286.0,2020.3A198.6,198.6 0 0 1 1270.3,2026.8L1267.3,2020.0A190.6,190.6 0 0 0 1281.9,2012.8ZM1270.3,2026.8A197.0,197.0 0 0 1 1268.2,2025.5L1266.1,2020.6A190.6,190.6 0 0 0 1267.3,2020.0ZM1268.2,2025.5A197.1,197.1 0 0 1 1267.2,2028.3L1264.2,2021.3A190.6,190.6 0 0 0 1266.1,2020.6ZM1267.2,2028.3A198.0,198.0 0 0 1 1259.9,2030.7L1257.4,2024.1A190.6,190.6 0 0 0 1264.2,2021.3ZM1259.9,2030.7A197.7,197.7 0 0 1 1249.4,2034.4L1247.3,2027.6A190.6,190.6 0 0 0 1257.4,2024.1ZM1249.4,2034.4A198.1,198.1 0 0 1 1239.0,2038.1L1237.1,2030.5A190.6,190.6 0 0 0 1247.3,2027.6ZM1239.0,2038.2A200.3,200.3 0 0 1 1237.5,2042.2L1234.8,2031.1A190.6,190.6 0 0 0 1237.0,2030.5ZM1035.5,1705.6A209.6,209.6 0 0 1 1045.3,1692.9L1059.0,1707.4A190.6,190.6 0 0 0 1048.9,1717.7Z" fill="#f9bfa9" stroke="#f9bfa9" stroke-width="0.6"/>
<path d="M1190.6,1668.8A177.4,177.4 0 0 1 1205.4,1668.8L1206.5,1655.9A190.6,190.6 0 0 0 1190.7,1655.2ZM1071.2,1712.9A178.1,178.1 0 0 1 1075.6,1709.5L1067.5,1699.8A190.6,190.6 0 0 0 1063.0,1703.7Z" fill="#c3d6ee" stroke="#c3d6ee" stroke-width="0.6"/>
<path d="M1146.8,2028.1A187.2,187.2 0 0 1 1136.3,2025.0L1135.3,2028.4A190.6,190.6 0 0 0 1146.0,2031.3ZM1136.3,2025.0A187.2,187.2 0 0 1 1125.9,2021.8L1124.8,2024.9A190.6,190.6 0 0 0 1135.3,2028.4ZM1021.1,1926.3A187.4,187.4 0 0 1 1015.9,1915.9L1013.2,1917.0A190.6,190.6 0 0 0 1018.0,1927.8ZM1009.1,1798.1A187.3,187.3 0 0 1 1010.2,1792.3L1007.3,1791.5A190.6,190.6 0 0 0 1005.7,1797.2ZM1041.7,1731.8A187.0,187.0 0 0 1 1046.2,1726.2L1043.5,1723.9A190.6,190.6 0 0 0 1038.9,1729.7ZM1104.7,1678.2A186.9,186.9 0 0 1 1109.9,1678.2L1107.8,1673.8A190.6,190.6 0 0 0 1103.5,1675.9ZM1109.9,1678.2A187.2,187.2 0 0 1 1110.9,1674.5L1110.1,1672.7A190.6,190.6 0 0 0 1107.8,1673.8Z" fill="#e3ecf7" stroke="#e3ecf7" stroke-width="0.6"/>
<path d="M1105.0,1676.6A189.2,189.2 0 0 1 1109.8,1674.5L1111.1,1677.3M1116.0,1671.6A188.8,188.8 0 0 1 1125.9,1668.8A188.5,188.5 0 0 1 1137.4,1664.6L1138.0,1662.8M1148.9,1660.1A189.7,189.7 0 0 1 1154.1,1659.9A188.4,188.4 0 0 1 1159.3,1660.8L1160.9,1658.4M1172.4,1656.9L1171.7,1649.1A197.6,197.6 0 0 1 1178.1,1648.4A197.8,197.8 0 0 1 1184.9,1648.0L1185.2,1656.6M1190.6,1655.7L1190.6,1668.8A177.4,177.4 0 0 1 1205.4,1668.8L1207.2,1647.4A200.5,200.5 0 0 1 1213.6,1645.3A202.2,202.2 0 0 1 1233.9,1648.0L1234.6,1644.7A206.0,206.0 0 0 1 1249.8,1648.6L1247.9,1655.0A200.3,200.3 0 0 1 1256.4,1656.0A201.4,201.4 0 0 1 1265.8,1658.9A201.5,201.5 0 0 1 1275.0,1663.3M1275.0,1663.5A201.5,201.5 0 0 1 1285.6,1667.8L1280.2,1677.9M1284.4,1680.3L1286.0,1682.0A190.3,190.3 0 0 1 1291.2,1684.1A191.4,191.4 0 0 1 1301.7,1689.7A191.8,191.8 0 0 1 1312.1,1698.0A190.9,190.9 0 0 1 1322.5,1709.5A190.0,190.0 0 0 1 1333.0,1721.0A189.7,189.7 0 0 1 1343.4,1734.6A189.7,189.7 0 0 1 1347.6,1739.8A190.1,190.1 0 0 1 1349.7,1742.5M1355.5,1745.7L1352.7,1747.4A189.9,189.9 0 0 1 1353.9,1750.2A190.0,190.0 0 0 1 1359.1,1758.6A190.2,190.2 0 0 1 1364.3,1770.1A189.9,189.9 0 0 1 1368.5,1781.5A189.5,189.5 0 0 1 1372.1,1794.1A189.3,189.3 0 0 1 1372.9,1797.0M1372.8,1797.0A189.2,189.2 0 0 1 1374.2,1802.8A189.6,189.6 0 0 1 1377.3,1814.3L1378.6,1816.0M1378.9,1821.6L1376.8,1823.7A188.6,188.6 0 0 1 1378.4,1828.9A189.3,189.3 0 0 1 1379.4,1844.5A189.5,189.5 0 0 1 1379.4,1855.0A189.5,189.5 0 0 1 1378.4,1865.4A189.6,189.6 0 0 1 1377.3,1875.9A189.7,189.7 0 0 1 1375.2,1886.3A189.6,189.6 0 0 1 1374.2,1891.0M1374.2,1897.3L1371.6,1898.8A189.7,189.7 0 0 1 1370.0,1907.2A190.6,190.6 0 0 1 1366.9,1917.6A191.1,191.1 0 0 1 1362.7,1928.1A191.3,191.3 0 0 1 1361.3,1931.0M1361.3,1931.0A190.8,190.8 0 0 1 1354.9,1940.9A190.3,190.3 0 0 1 1347.6,1952.4A189.8,189.8 0 0 1 1343.4,1956.6L1343.9,1958.4M1338.2,1961.8A188.9,188.9 0 0 1 1336.6,1966.0A188.9,188.9 0 0 1 1333.0,1968.1A188.7,188.7 0 0 1 1330.9,1972.3A189.6,189.6 0 0 1 1326.7,1977.5A190.3,190.3 0 0 1 1324.6,1980.8A190.0,190.0 0 0 1 1320.4,1982.9A189.1,189.1 0 0 1 1312.1,1990.0A189.0,189.0 0 0 1 1301.7,1998.4A189.0,189.0 0 0 1 1295.4,2002.6A189.5,189.5 0 0 1 1293.8,2005.2M1325.4,1979.4L1330.2,1984.1L1331.4,1983.8M1289.5,2008.4L1294.5,2016.6A199.7,199.7 0 0 1 1286.0,2020.3A198.6,198.6 0 0 1 1270.3,2026.8L1268.2,2025.5L1267.2,2028.3A198.0,198.0 0 0 1 1259.9,2030.7A197.7,197.7 0 0 1 1249.4,2034.4A198.1,198.1 0 0 1 1239.0,2038.1M1239.0,2038.2L1237.5,2042.2L1234.9,2031.3M1229.8,2034.4L1229.2,2031.8A189.7,189.7 0 0 1 1225.1,2031.8A188.9,188.9 0 0 1 1214.6,2032.8A188.9,188.9 0 0 1 1204.2,2034.4A189.1,189.1 0 0 1 1193.8,2034.9A188.9,188.9 0 0 1 1183.3,2034.4A189.4,189.4 0 0 1 1176.0,2035.4M1170.3,2034.4A189.2,189.2 0 0 1 1163.5,2032.8A188.8,188.8 0 0 1 1155.1,2031.2A188.0,188.0 0 0 1 1146.8,2028.1A187.2,187.2 0 0 1 1136.3,2025.0A187.2,187.2 0 0 1 1125.9,2021.8A188.2,188.2 0 0 1 1119.6,2021.3M1113.7,2020.0L1112.5,2017.2A187.9,187.9 0 0 1 1106.7,2014.0A188.3,188.3 0 0 1 1103.0,2013.5L1101.6,2016.2A192.1,192.1 0 0 1 1098.9,2015.1A190.7,190.7 0 0 1 1097.9,2010.9A189.1,189.1 0 0 1 1085.9,2003.6A188.9,188.9 0 0 1 1075.4,1995.8A189.3,189.3 0 0 1 1070.2,1993.2M1066.5,1989.5A188.8,188.8 0 0 1 1059.8,1981.7A188.2,188.2 0 0 1 1052.4,1974.4A188.3,188.3 0 0 1 1044.1,1965.0A188.6,188.6 0 0 1 1035.7,1954.5A189.7,189.7 0 0 1 1032.7,1953.3L1031.0,1954.5M1030.5,1947.7A188.5,188.5 0 0 1 1029.5,1943.0A187.9,187.9 0 0 1 1025.3,1936.8A187.6,187.6 0 0 1 1021.1,1926.3A187.4,187.4 0 0 1 1015.9,1915.9A187.7,187.7 0 0 1 1012.8,1907.5A187.9,187.9 0 0 1 1010.7,1902.9L1021.1,1899.6M1009.0,1890.4L1006.2,1891.1A189.4,189.4 0 0 1 1003.9,1881.1A189.6,189.6 0 0 1 1001.8,1870.6A189.8,189.8 0 0 1 1000.8,1860.2A189.9,189.9 0 0 1 1000.3,1856.0M991.9,1842.5L1001.8,1842.6A188.4,188.4 0 0 1 1001.8,1834.1A188.5,188.5 0 0 1 1002.9,1823.7A188.7,188.7 0 0 1 1003.9,1813.2A189.5,189.5 0 0 1 1003.4,1810.1M1009.1,1798.1A187.3,187.3 0 0 1 1010.2,1792.3A187.7,187.7 0 0 1 1013.3,1781.9A188.1,188.1 0 0 1 1017.7,1770.0L1015.8,1769.2M1018.7,1763.0L1021.0,1764.1A188.2,188.2 0 0 1 1022.7,1758.6A188.9,188.9 0 0 1 1024.8,1753.9A189.5,189.5 0 0 1 1026.9,1748.7A189.4,189.4 0 0 1 1033.7,1739.8A188.6,188.6 0 0 1 1037.0,1736.1M1039.2,1729.9L1041.7,1731.8A187.0,187.0 0 0 1 1046.2,1726.2A187.7,187.7 0 0 1 1050.6,1719.2L1035.5,1705.6A209.6,209.6 0 0 1 1045.3,1692.9L1059.6,1708.0M1063.5,1704.2L1071.2,1712.9A178.1,178.1 0 0 1 1075.6,1709.5L1069.5,1702.2A187.7,187.7 0 0 1 1075.4,1697.0A188.4,188.4 0 0 1 1086.9,1687.4M1091.6,1684.4A188.0,188.0 0 0 1 1096.3,1683.9L1097.4,1681.3A188.5,188.5 0 0 1 1104.7,1678.2A186.9,186.9 0 0 1 1109.9,1678.2L1110.9,1674.5" fill="none" stroke="#0a0a0a" stroke-width="1.6" stroke-linejoin="miter"/>
<path d="M1138.6,1626.0L1145.2,1660.8M1141.0,1626.0L1147.3,1660.8M1138.6,1626.0L1141.0,1626.0M1146.2,1661.0L1152.0,1677.7M1184.9,1644.3L1184.9,1648.0M1196.9,1656.3L1198.5,1677.1M1249.6,1647.9L1255.4,1629.6M1291.2,1683.9L1308.4,1653.6M1313.7,1699.1L1318.4,1693.3M1324.6,1709.5L1337.7,1696.4M1348.6,1739.3L1357.0,1733.5M1366.9,1847.1L1379.4,1847.1M1374.2,1891.0L1409.7,1900.4M1329.8,1954.0L1350.7,1969.7M1330.9,1983.8L1352.3,2003.6M1222.5,2010.4L1226.1,2031.8M1213.6,2020.8L1214.1,2032.8M1158.3,2009.8L1155.1,2031.2M1097.9,2010.9L1088.5,2029.2M1030.5,1947.7L1000.8,1967.1M988.8,1792.3L1009.1,1798.1M1004.9,1747.6L1022.2,1756.5M1005.5,1751.3L1021.6,1759.6M1012.2,1745.5L1025.8,1753.9M1025.8,1695.9L1050.4,1719.4M1021.1,1704.8L1046.2,1726.2M1101.0,1668.8L1105.2,1677.1" fill="none" stroke="#0a0a0a" stroke-width="1.3"/>
<path d="M1173.9,1657.8L1174.8,1673.0M1147.8,2015.1L1142.6,2040.6" fill="none" stroke="#0a0a0a" stroke-width="2.6"/>
<path d="M1220.9,1706.6Q1188.3,1822.1 1326.0,1799.8" fill="none" stroke="#9a8fca" stroke-width="2" stroke-linecap="round"/>
<path d="M1245.0,1595.8L1250.9,1568.9" fill="none" stroke="#3a3a3a" stroke-width="0.8"/>
<g font-family='"Liberation Serif", "Times New Roman", serif' font-weight="bold" font-size="20" fill="#000"><text transform="translate(1251.7,1565.0) rotate(-77.6)" y="6.6" text-anchor="start" textLength="75" lengthAdjust="spacing">WDR47</text></g>
<text x="1189.8" y="2184.8" font-family='"Liberation Sans", Arial, Helvetica, sans-serif' font-size="36.6" fill="#000" text-anchor="middle">NB1643</text>
</g>
</svg></body></html>
